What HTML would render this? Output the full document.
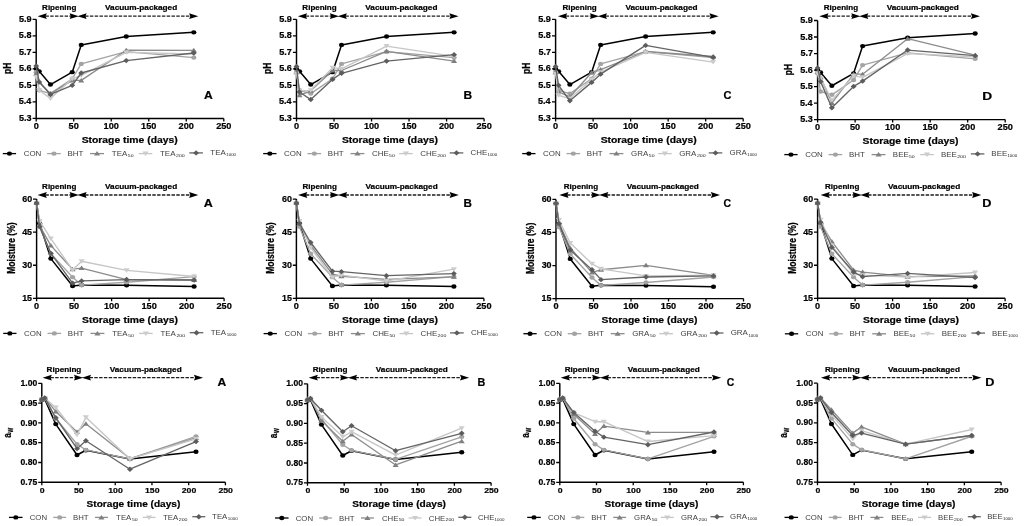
<!DOCTYPE html>
<html><head><meta charset="utf-8"><style>
html,body{margin:0;padding:0;background:#fff;overflow:hidden;}
svg{display:block;filter:blur(0.35px);}
text{font-family:"Liberation Sans", sans-serif;}
</style></head><body>
<svg width="1024" height="526" viewBox="0 0 1024 526" font-family='"Liberation Sans", sans-serif'>
<rect width="1024" height="526" fill="#fff"/>
<g>
<path d="M36.2 19.3V118.4H223.8" fill="none" stroke="#000" stroke-width="1.45"/>
<path d="M32.6 118.4H36.2M32.6 101.88H36.2M32.6 85.37H36.2M32.6 68.85H36.2M32.6 52.33H36.2M32.6 35.82H36.2M32.6 19.3H36.2M36.2 118.4V121.4M73.72 118.4V121.4M111.24 118.4V121.4M148.76 118.4V121.4M186.28 118.4V121.4M223.8 118.4V121.4" stroke="#000" stroke-width="1.3"/>
<text transform="translate(18.91 120.89) scale(1.08 1)" font-size="8.4" font-weight="bold" fill="#000" stroke="#000" stroke-width="0.2">5.3</text>
<text transform="translate(18.64 104.37) scale(1.08 1)" font-size="8.4" font-weight="bold" fill="#000" stroke="#000" stroke-width="0.2">5.4</text>
<text transform="translate(18.84 87.86) scale(1.08 1)" font-size="8.4" font-weight="bold" fill="#000" stroke="#000" stroke-width="0.2">5.5</text>
<text transform="translate(18.91 71.34) scale(1.08 1)" font-size="8.4" font-weight="bold" fill="#000" stroke="#000" stroke-width="0.2">5.6</text>
<text transform="translate(18.98 54.82) scale(1.08 1)" font-size="8.4" font-weight="bold" fill="#000" stroke="#000" stroke-width="0.2">5.7</text>
<text transform="translate(18.86 38.31) scale(1.08 1)" font-size="8.4" font-weight="bold" fill="#000" stroke="#000" stroke-width="0.2">5.8</text>
<text transform="translate(18.91 21.79) scale(1.08 1)" font-size="8.4" font-weight="bold" fill="#000" stroke="#000" stroke-width="0.2">5.9</text>
<text transform="translate(33.65 129) scale(1.12 1)" font-size="8.2" font-weight="bold" stroke="#000" stroke-width="0.2">0</text>
<text transform="translate(68.61 129) scale(1.12 1)" font-size="8.2" font-weight="bold" stroke="#000" stroke-width="0.2">50</text>
<text transform="translate(103.58 129) scale(1.12 1)" font-size="8.2" font-weight="bold" stroke="#000" stroke-width="0.2">100</text>
<text transform="translate(141.1 129) scale(1.12 1)" font-size="8.2" font-weight="bold" stroke="#000" stroke-width="0.2">150</text>
<text transform="translate(178.62 129) scale(1.12 1)" font-size="8.2" font-weight="bold" stroke="#000" stroke-width="0.2">200</text>
<text transform="translate(216.14 129) scale(1.12 1)" font-size="8.2" font-weight="bold" stroke="#000" stroke-width="0.2">250</text>
<text transform="translate(81.69 142.8) scale(1.15 1)" font-size="9" font-weight="bold" fill="#000" stroke="#000" stroke-width="0.2">Storage time (days)</text>
<text transform="translate(42.11 9.8) scale(1.18 1)" font-size="6.8" font-weight="bold" fill="#000" stroke="#000" stroke-width="0.2">Ripening</text>
<text transform="translate(105.09 9.8) scale(1.21 1)" font-size="6.8" font-weight="bold" fill="#000" stroke="#000" stroke-width="0.2">Vacuum-packaged</text>
<path d="M45.4 16.2H71.1M85.1 16.2H190.5" stroke="#1c1c1c" stroke-width="1.3" stroke-dasharray="3.45 1.35"/>
<path d="M37.6 16.2L46.8 13.3L45.6 16.2L46.8 19.1Z" fill="#000"/>
<path d="M78.8 16.2L69.6 13.3L70.8 16.2L69.6 19.1Z" fill="#000"/>
<path d="M77.4 16.2L86.6 13.3L85.4 16.2L86.6 19.1Z" fill="#000"/>
<path d="M198.3 16.2L189.1 13.3L190.3 16.2L189.1 19.1Z" fill="#000"/>
<text transform="translate(203.9 99.25) scale(1.14 1)" font-size="10.6" font-weight="bold" fill="#000" stroke="#000" stroke-width="0.2">A</text>
<text transform="translate(10.96 73.95) scale(1.27 1.06) rotate(-90)" font-size="8" font-weight="bold" stroke="#000" stroke-width="0.2">pH</text>
<path d="M2.8 153.6H16.1" stroke="#000000" stroke-width="1.3"/>
<ellipse cx="9.45" cy="153.6" rx="2.6" ry="2.2" fill="#000000"/>
<text transform="translate(23.7 156) scale(1.12 1)" font-size="7.1" font-weight="normal" fill="#404040">CON</text>
<path d="M47.1 153.6H60.75" stroke="#a3a3a3" stroke-width="1.3"/>
<ellipse cx="53.92" cy="153.6" rx="2.6" ry="2.2" fill="#a3a3a3"/>
<text transform="translate(67.44 156) scale(1.12 1)" font-size="7.1" font-weight="normal" fill="#404040">BHT</text>
<path d="M90.1 153.6H104" stroke="#8c8c8c" stroke-width="1.3"/>
<path d="M97.05 151.1L100.12 155.6L93.98 155.6Z" fill="#808080"/>
<text transform="translate(111.82 156) scale(1.12 1)" font-size="7.1" font-weight="normal" fill="#404040">TEA</text>
<text transform="translate(127.86 157.1) scale(1.19 1)" font-size="4.3" font-weight="normal" fill="#262626">50</text>
<path d="M138.7 153.6H152.3" stroke="#c6c6c6" stroke-width="1.3"/>
<path d="M145.5 156.1L148.57 151.6L142.43 151.6Z" fill="#cccccc"/>
<text transform="translate(160.02 156) scale(1.12 1)" font-size="7.1" font-weight="normal" fill="#404040">TEA</text>
<text transform="translate(176.01 157.1) scale(1.22 1)" font-size="4.3" font-weight="normal" fill="#262626">200</text>
<path d="M189.3 152.9H202.9" stroke="#646464" stroke-width="1.3"/>
<path d="M196.1 150.2L199.05 152.9L196.1 155.6L193.15 152.9Z" fill="#5c5c5c"/>
<text transform="translate(210.32 155.3) scale(1.12 1)" font-size="7.1" font-weight="normal" fill="#404040">TEA</text>
<text transform="translate(226.24 156.4) scale(1.03 1)" font-size="4.3" font-weight="normal" fill="#262626">1000</text>
<path d="M36.2 68.85L39.2 71.33L50.46 84.54L72.22 72.15L81.22 44.9L126.25 36.48L193.78 32.35" fill="none" stroke="#000000" stroke-width="1.5" stroke-linejoin="round"/>
<ellipse cx="36.2" cy="68.85" rx="2.6" ry="2.2" fill="#000000"/>
<ellipse cx="39.2" cy="71.33" rx="2.6" ry="2.2" fill="#000000"/>
<ellipse cx="50.46" cy="84.54" rx="2.6" ry="2.2" fill="#000000"/>
<ellipse cx="72.22" cy="72.15" rx="2.6" ry="2.2" fill="#000000"/>
<ellipse cx="81.22" cy="44.9" rx="2.6" ry="2.2" fill="#000000"/>
<ellipse cx="126.25" cy="36.48" rx="2.6" ry="2.2" fill="#000000"/>
<ellipse cx="193.78" cy="32.35" rx="2.6" ry="2.2" fill="#000000"/>
<path d="M36.2 72.15L39.2 90.32L50.46 93.62L72.22 78.76L81.22 63.9L126.25 51.67L193.78 57.62" fill="none" stroke="#a3a3a3" stroke-width="1.35" stroke-linejoin="round"/>
<ellipse cx="36.2" cy="72.15" rx="2.6" ry="2.2" fill="#a3a3a3"/>
<ellipse cx="39.2" cy="90.32" rx="2.6" ry="2.2" fill="#a3a3a3"/>
<ellipse cx="50.46" cy="93.62" rx="2.6" ry="2.2" fill="#a3a3a3"/>
<ellipse cx="72.22" cy="78.76" rx="2.6" ry="2.2" fill="#a3a3a3"/>
<ellipse cx="81.22" cy="63.9" rx="2.6" ry="2.2" fill="#a3a3a3"/>
<ellipse cx="126.25" cy="51.67" rx="2.6" ry="2.2" fill="#a3a3a3"/>
<ellipse cx="193.78" cy="57.62" rx="2.6" ry="2.2" fill="#a3a3a3"/>
<path d="M36.2 73.8L39.2 82.06L50.46 93.62L72.22 80.41L81.22 80.41L126.25 50.19L193.78 50.35" fill="none" stroke="#8c8c8c" stroke-width="1.35" stroke-linejoin="round"/>
<path d="M36.2 71.3L39.27 75.8L33.13 75.8Z" fill="#808080"/>
<path d="M39.2 79.56L42.27 84.06L36.13 84.06Z" fill="#808080"/>
<path d="M50.46 91.12L53.53 95.62L47.39 95.62Z" fill="#808080"/>
<path d="M72.22 77.91L75.29 82.41L69.15 82.41Z" fill="#808080"/>
<path d="M81.22 77.91L84.29 82.41L78.16 82.41Z" fill="#808080"/>
<path d="M126.25 47.69L129.32 52.19L123.18 52.19Z" fill="#808080"/>
<path d="M193.78 47.85L196.85 52.35L190.72 52.35Z" fill="#808080"/>
<path d="M36.2 77.11L39.2 90.32L50.46 98.58L72.22 78.76L81.22 75.46L126.25 52.33L193.78 53.98" fill="none" stroke="#c6c6c6" stroke-width="1.35" stroke-linejoin="round"/>
<path d="M36.2 79.61L39.27 75.11L33.13 75.11Z" fill="#cccccc"/>
<path d="M39.2 92.82L42.27 88.32L36.13 88.32Z" fill="#cccccc"/>
<path d="M50.46 101.08L53.53 96.58L47.39 96.58Z" fill="#cccccc"/>
<path d="M72.22 81.26L75.29 76.76L69.15 76.76Z" fill="#cccccc"/>
<path d="M81.22 77.96L84.29 73.46L78.16 73.46Z" fill="#cccccc"/>
<path d="M126.25 54.83L129.32 50.33L123.18 50.33Z" fill="#cccccc"/>
<path d="M193.78 56.48L196.85 51.98L190.72 51.98Z" fill="#cccccc"/>
<path d="M36.2 65.88L39.2 82.06L50.46 94.45L72.22 85.37L81.22 72.98L126.25 60.59L193.78 52.99" fill="none" stroke="#646464" stroke-width="1.35" stroke-linejoin="round"/>
<path d="M36.2 63.18L39.15 65.88L36.2 68.58L33.25 65.88Z" fill="#5c5c5c"/>
<path d="M39.2 79.36L42.15 82.06L39.2 84.76L36.25 82.06Z" fill="#5c5c5c"/>
<path d="M50.46 91.75L53.41 94.45L50.46 97.15L47.51 94.45Z" fill="#5c5c5c"/>
<path d="M72.22 82.67L75.17 85.37L72.22 88.07L69.27 85.37Z" fill="#5c5c5c"/>
<path d="M81.22 70.28L84.17 72.98L81.22 75.68L78.27 72.98Z" fill="#5c5c5c"/>
<path d="M126.25 57.89L129.2 60.59L126.25 63.29L123.3 60.59Z" fill="#5c5c5c"/>
<path d="M193.78 50.29L196.73 52.99L193.78 55.69L190.83 52.99Z" fill="#5c5c5c"/>
</g>
<g>
<path d="M296.5 19.3V118.4H484.1" fill="none" stroke="#000" stroke-width="1.45"/>
<path d="M292.9 118.4H296.5M292.9 101.88H296.5M292.9 85.37H296.5M292.9 68.85H296.5M292.9 52.33H296.5M292.9 35.82H296.5M292.9 19.3H296.5M296.5 118.4V121.4M334.02 118.4V121.4M371.54 118.4V121.4M409.06 118.4V121.4M446.58 118.4V121.4M484.1 118.4V121.4" stroke="#000" stroke-width="1.3"/>
<text transform="translate(279.21 120.89) scale(1.08 1)" font-size="8.4" font-weight="bold" fill="#000" stroke="#000" stroke-width="0.2">5.3</text>
<text transform="translate(278.94 104.37) scale(1.08 1)" font-size="8.4" font-weight="bold" fill="#000" stroke="#000" stroke-width="0.2">5.4</text>
<text transform="translate(279.14 87.86) scale(1.08 1)" font-size="8.4" font-weight="bold" fill="#000" stroke="#000" stroke-width="0.2">5.5</text>
<text transform="translate(279.21 71.34) scale(1.08 1)" font-size="8.4" font-weight="bold" fill="#000" stroke="#000" stroke-width="0.2">5.6</text>
<text transform="translate(279.28 54.82) scale(1.08 1)" font-size="8.4" font-weight="bold" fill="#000" stroke="#000" stroke-width="0.2">5.7</text>
<text transform="translate(279.16 38.31) scale(1.08 1)" font-size="8.4" font-weight="bold" fill="#000" stroke="#000" stroke-width="0.2">5.8</text>
<text transform="translate(279.21 21.79) scale(1.08 1)" font-size="8.4" font-weight="bold" fill="#000" stroke="#000" stroke-width="0.2">5.9</text>
<text transform="translate(293.95 129) scale(1.12 1)" font-size="8.2" font-weight="bold" stroke="#000" stroke-width="0.2">0</text>
<text transform="translate(328.91 129) scale(1.12 1)" font-size="8.2" font-weight="bold" stroke="#000" stroke-width="0.2">50</text>
<text transform="translate(363.88 129) scale(1.12 1)" font-size="8.2" font-weight="bold" stroke="#000" stroke-width="0.2">100</text>
<text transform="translate(401.4 129) scale(1.12 1)" font-size="8.2" font-weight="bold" stroke="#000" stroke-width="0.2">150</text>
<text transform="translate(438.92 129) scale(1.12 1)" font-size="8.2" font-weight="bold" stroke="#000" stroke-width="0.2">200</text>
<text transform="translate(476.44 129) scale(1.12 1)" font-size="8.2" font-weight="bold" stroke="#000" stroke-width="0.2">250</text>
<text transform="translate(341.89 142.8) scale(1.15 1)" font-size="9" font-weight="bold" fill="#000" stroke="#000" stroke-width="0.2">Storage time (days)</text>
<text transform="translate(302.37 9.8) scale(1.18 1)" font-size="6.8" font-weight="bold" fill="#000" stroke="#000" stroke-width="0.2">Ripening</text>
<text transform="translate(365.35 9.8) scale(1.21 1)" font-size="6.8" font-weight="bold" fill="#000" stroke="#000" stroke-width="0.2">Vacuum-packaged</text>
<path d="M305.66 16.2H331.36M345.36 16.2H450.76" stroke="#1c1c1c" stroke-width="1.3" stroke-dasharray="3.45 1.35"/>
<path d="M297.86 16.2L307.06 13.3L305.86 16.2L307.06 19.1Z" fill="#000"/>
<path d="M339.06 16.2L329.86 13.3L331.06 16.2L329.86 19.1Z" fill="#000"/>
<path d="M337.66 16.2L346.86 13.3L345.66 16.2L346.86 19.1Z" fill="#000"/>
<path d="M458.56 16.2L449.36 13.3L450.56 16.2L449.36 19.1Z" fill="#000"/>
<text transform="translate(463.49 99.3) scale(1.13 1)" font-size="10.6" font-weight="bold" fill="#000" stroke="#000" stroke-width="0.2">B</text>
<text transform="translate(271.26 73.95) scale(1.27 1.06) rotate(-90)" font-size="8" font-weight="bold" stroke="#000" stroke-width="0.2">pH</text>
<path d="M263.2 153.6H276.5" stroke="#000000" stroke-width="1.3"/>
<ellipse cx="269.85" cy="153.6" rx="2.6" ry="2.2" fill="#000000"/>
<text transform="translate(284.1 156) scale(1.12 1)" font-size="7.1" font-weight="normal" fill="#404040">CON</text>
<path d="M307.5 153.6H321.15" stroke="#a3a3a3" stroke-width="1.3"/>
<ellipse cx="314.32" cy="153.6" rx="2.6" ry="2.2" fill="#a3a3a3"/>
<text transform="translate(327.84 156) scale(1.12 1)" font-size="7.1" font-weight="normal" fill="#404040">BHT</text>
<path d="M350.5 153.6H364.4" stroke="#8c8c8c" stroke-width="1.3"/>
<path d="M357.45 151.1L360.52 155.6L354.38 155.6Z" fill="#808080"/>
<text transform="translate(372 156) scale(1.12 1)" font-size="7.1" font-weight="normal" fill="#404040">CHE</text>
<text transform="translate(389.06 157.1) scale(1.19 1)" font-size="4.3" font-weight="normal" fill="#262626">50</text>
<path d="M399.1 153.6H412.7" stroke="#c6c6c6" stroke-width="1.3"/>
<path d="M405.9 156.1L408.97 151.6L402.83 151.6Z" fill="#cccccc"/>
<text transform="translate(420.2 156) scale(1.12 1)" font-size="7.1" font-weight="normal" fill="#404040">CHE</text>
<text transform="translate(437.2 157.1) scale(1.22 1)" font-size="4.3" font-weight="normal" fill="#262626">200</text>
<path d="M449.7 152.9H463.3" stroke="#646464" stroke-width="1.3"/>
<path d="M456.5 150.2L459.45 152.9L456.5 155.6L453.55 152.9Z" fill="#5c5c5c"/>
<text transform="translate(470.5 155.3) scale(1.12 1)" font-size="7.1" font-weight="normal" fill="#404040">CHE</text>
<text transform="translate(487.43 156.4) scale(1.03 1)" font-size="4.3" font-weight="normal" fill="#262626">1000</text>
<path d="M296.5 68.85L299.5 71.33L310.76 84.54L332.52 72.15L341.52 44.9L386.55 36.48L454.08 32.35" fill="none" stroke="#000000" stroke-width="1.5" stroke-linejoin="round"/>
<ellipse cx="296.5" cy="68.85" rx="2.6" ry="2.2" fill="#000000"/>
<ellipse cx="299.5" cy="71.33" rx="2.6" ry="2.2" fill="#000000"/>
<ellipse cx="310.76" cy="84.54" rx="2.6" ry="2.2" fill="#000000"/>
<ellipse cx="332.52" cy="72.15" rx="2.6" ry="2.2" fill="#000000"/>
<ellipse cx="341.52" cy="44.9" rx="2.6" ry="2.2" fill="#000000"/>
<ellipse cx="386.55" cy="36.48" rx="2.6" ry="2.2" fill="#000000"/>
<ellipse cx="454.08" cy="32.35" rx="2.6" ry="2.2" fill="#000000"/>
<path d="M296.5 72.15L299.5 90.32L310.76 93.62L332.52 78.76L341.52 63.9L386.55 51.67L454.08 57.62" fill="none" stroke="#a3a3a3" stroke-width="1.35" stroke-linejoin="round"/>
<ellipse cx="296.5" cy="72.15" rx="2.6" ry="2.2" fill="#a3a3a3"/>
<ellipse cx="299.5" cy="90.32" rx="2.6" ry="2.2" fill="#a3a3a3"/>
<ellipse cx="310.76" cy="93.62" rx="2.6" ry="2.2" fill="#a3a3a3"/>
<ellipse cx="332.52" cy="78.76" rx="2.6" ry="2.2" fill="#a3a3a3"/>
<ellipse cx="341.52" cy="63.9" rx="2.6" ry="2.2" fill="#a3a3a3"/>
<ellipse cx="386.55" cy="51.67" rx="2.6" ry="2.2" fill="#a3a3a3"/>
<ellipse cx="454.08" cy="57.62" rx="2.6" ry="2.2" fill="#a3a3a3"/>
<path d="M296.5 72.15L299.5 95.28L310.76 90.82L332.52 70.5L341.52 70.5L386.55 51.34L454.08 61.09" fill="none" stroke="#8c8c8c" stroke-width="1.35" stroke-linejoin="round"/>
<path d="M296.5 69.65L299.57 74.15L293.43 74.15Z" fill="#808080"/>
<path d="M299.5 92.78L302.57 97.28L296.43 97.28Z" fill="#808080"/>
<path d="M310.76 88.32L313.83 92.82L307.69 92.82Z" fill="#808080"/>
<path d="M332.52 68L335.59 72.5L329.45 72.5Z" fill="#808080"/>
<path d="M341.52 68L344.59 72.5L338.46 72.5Z" fill="#808080"/>
<path d="M386.55 48.84L389.62 53.34L383.48 53.34Z" fill="#808080"/>
<path d="M454.08 58.59L457.15 63.09L451.02 63.09Z" fill="#808080"/>
<path d="M296.5 73.8L299.5 90.82L310.76 90.32L332.52 67.69L341.52 68.85L386.55 46.06L454.08 56.3" fill="none" stroke="#c6c6c6" stroke-width="1.35" stroke-linejoin="round"/>
<path d="M296.5 76.3L299.57 71.8L293.43 71.8Z" fill="#cccccc"/>
<path d="M299.5 93.32L302.57 88.82L296.43 88.82Z" fill="#cccccc"/>
<path d="M310.76 92.82L313.83 88.32L307.69 88.32Z" fill="#cccccc"/>
<path d="M332.52 70.19L335.59 65.69L329.45 65.69Z" fill="#cccccc"/>
<path d="M341.52 71.35L344.59 66.85L338.46 66.85Z" fill="#cccccc"/>
<path d="M386.55 48.56L389.62 44.06L383.48 44.06Z" fill="#cccccc"/>
<path d="M454.08 58.8L457.15 54.3L451.02 54.3Z" fill="#cccccc"/>
<path d="M296.5 66.54L299.5 91.97L310.76 99.57L332.52 79.42L341.52 73.31L386.55 61.09L454.08 54.65" fill="none" stroke="#646464" stroke-width="1.35" stroke-linejoin="round"/>
<path d="M296.5 63.84L299.45 66.54L296.5 69.24L293.55 66.54Z" fill="#5c5c5c"/>
<path d="M299.5 89.27L302.45 91.97L299.5 94.67L296.55 91.97Z" fill="#5c5c5c"/>
<path d="M310.76 96.87L313.71 99.57L310.76 102.27L307.81 99.57Z" fill="#5c5c5c"/>
<path d="M332.52 76.72L335.47 79.42L332.52 82.12L329.57 79.42Z" fill="#5c5c5c"/>
<path d="M341.52 70.61L344.47 73.31L341.52 76.01L338.57 73.31Z" fill="#5c5c5c"/>
<path d="M386.55 58.39L389.5 61.09L386.55 63.79L383.6 61.09Z" fill="#5c5c5c"/>
<path d="M454.08 51.95L457.03 54.65L454.08 57.35L451.13 54.65Z" fill="#5c5c5c"/>
</g>
<g>
<path d="M555.6 19.3V118.4H743.2" fill="none" stroke="#000" stroke-width="1.45"/>
<path d="M552 118.4H555.6M552 101.88H555.6M552 85.37H555.6M552 68.85H555.6M552 52.33H555.6M552 35.82H555.6M552 19.3H555.6M555.6 118.4V121.4M593.12 118.4V121.4M630.64 118.4V121.4M668.16 118.4V121.4M705.68 118.4V121.4M743.2 118.4V121.4" stroke="#000" stroke-width="1.3"/>
<text transform="translate(538.31 120.89) scale(1.08 1)" font-size="8.4" font-weight="bold" fill="#000" stroke="#000" stroke-width="0.2">5.3</text>
<text transform="translate(538.04 104.37) scale(1.08 1)" font-size="8.4" font-weight="bold" fill="#000" stroke="#000" stroke-width="0.2">5.4</text>
<text transform="translate(538.24 87.86) scale(1.08 1)" font-size="8.4" font-weight="bold" fill="#000" stroke="#000" stroke-width="0.2">5.5</text>
<text transform="translate(538.31 71.34) scale(1.08 1)" font-size="8.4" font-weight="bold" fill="#000" stroke="#000" stroke-width="0.2">5.6</text>
<text transform="translate(538.38 54.82) scale(1.08 1)" font-size="8.4" font-weight="bold" fill="#000" stroke="#000" stroke-width="0.2">5.7</text>
<text transform="translate(538.26 38.31) scale(1.08 1)" font-size="8.4" font-weight="bold" fill="#000" stroke="#000" stroke-width="0.2">5.8</text>
<text transform="translate(538.31 21.79) scale(1.08 1)" font-size="8.4" font-weight="bold" fill="#000" stroke="#000" stroke-width="0.2">5.9</text>
<text transform="translate(553.05 129) scale(1.12 1)" font-size="8.2" font-weight="bold" stroke="#000" stroke-width="0.2">0</text>
<text transform="translate(588.01 129) scale(1.12 1)" font-size="8.2" font-weight="bold" stroke="#000" stroke-width="0.2">50</text>
<text transform="translate(622.98 129) scale(1.12 1)" font-size="8.2" font-weight="bold" stroke="#000" stroke-width="0.2">100</text>
<text transform="translate(660.5 129) scale(1.12 1)" font-size="8.2" font-weight="bold" stroke="#000" stroke-width="0.2">150</text>
<text transform="translate(698.02 129) scale(1.12 1)" font-size="8.2" font-weight="bold" stroke="#000" stroke-width="0.2">200</text>
<text transform="translate(735.54 129) scale(1.12 1)" font-size="8.2" font-weight="bold" stroke="#000" stroke-width="0.2">250</text>
<text transform="translate(600.69 142.8) scale(1.15 1)" font-size="9" font-weight="bold" fill="#000" stroke="#000" stroke-width="0.2">Storage time (days)</text>
<text transform="translate(562.45 9.8) scale(1.18 1)" font-size="6.8" font-weight="bold" fill="#000" stroke="#000" stroke-width="0.2">Ripening</text>
<text transform="translate(625.43 9.8) scale(1.21 1)" font-size="6.8" font-weight="bold" fill="#000" stroke="#000" stroke-width="0.2">Vacuum-packaged</text>
<path d="M565.74 16.2H591.44M605.44 16.2H710.84" stroke="#1c1c1c" stroke-width="1.3" stroke-dasharray="3.45 1.35"/>
<path d="M557.94 16.2L567.14 13.3L565.94 16.2L567.14 19.1Z" fill="#000"/>
<path d="M599.14 16.2L589.94 13.3L591.14 16.2L589.94 19.1Z" fill="#000"/>
<path d="M597.74 16.2L606.94 13.3L605.74 16.2L606.94 19.1Z" fill="#000"/>
<path d="M718.64 16.2L709.44 13.3L710.64 16.2L709.44 19.1Z" fill="#000"/>
<text transform="translate(723.46 99.4) scale(1.04 1)" font-size="10.6" font-weight="bold" fill="#000" stroke="#000" stroke-width="0.2">C</text>
<text transform="translate(530.36 73.95) scale(1.27 1.06) rotate(-90)" font-size="8" font-weight="bold" stroke="#000" stroke-width="0.2">pH</text>
<path d="M522.2 153.6H535.5" stroke="#000000" stroke-width="1.3"/>
<ellipse cx="528.85" cy="153.6" rx="2.6" ry="2.2" fill="#000000"/>
<text transform="translate(543.1 156) scale(1.12 1)" font-size="7.1" font-weight="normal" fill="#404040">CON</text>
<path d="M566.5 153.6H580.15" stroke="#a3a3a3" stroke-width="1.3"/>
<ellipse cx="573.33" cy="153.6" rx="2.6" ry="2.2" fill="#a3a3a3"/>
<text transform="translate(586.84 156) scale(1.12 1)" font-size="7.1" font-weight="normal" fill="#404040">BHT</text>
<path d="M609.5 153.6H623.4" stroke="#8c8c8c" stroke-width="1.3"/>
<path d="M616.45 151.1L619.52 155.6L613.38 155.6Z" fill="#808080"/>
<text transform="translate(631 156) scale(1.12 1)" font-size="7.1" font-weight="normal" fill="#404040">GRA</text>
<text transform="translate(648.81 157.1) scale(1.19 1)" font-size="4.3" font-weight="normal" fill="#262626">50</text>
<path d="M658.1 153.6H671.7" stroke="#c6c6c6" stroke-width="1.3"/>
<path d="M664.9 156.1L667.97 151.6L661.83 151.6Z" fill="#cccccc"/>
<text transform="translate(679.2 156) scale(1.12 1)" font-size="7.1" font-weight="normal" fill="#404040">GRA</text>
<text transform="translate(696.96 157.1) scale(1.22 1)" font-size="4.3" font-weight="normal" fill="#262626">200</text>
<path d="M708.7 152.9H722.3" stroke="#646464" stroke-width="1.3"/>
<path d="M715.5 150.2L718.45 152.9L715.5 155.6L712.55 152.9Z" fill="#5c5c5c"/>
<text transform="translate(729.5 155.3) scale(1.12 1)" font-size="7.1" font-weight="normal" fill="#404040">GRA</text>
<text transform="translate(747.19 156.4) scale(1.03 1)" font-size="4.3" font-weight="normal" fill="#262626">1000</text>
<path d="M555.6 68.85L558.6 71.33L569.86 84.54L591.62 72.15L600.62 44.9L645.65 36.48L713.18 32.35" fill="none" stroke="#000000" stroke-width="1.5" stroke-linejoin="round"/>
<ellipse cx="555.6" cy="68.85" rx="2.6" ry="2.2" fill="#000000"/>
<ellipse cx="558.6" cy="71.33" rx="2.6" ry="2.2" fill="#000000"/>
<ellipse cx="569.86" cy="84.54" rx="2.6" ry="2.2" fill="#000000"/>
<ellipse cx="591.62" cy="72.15" rx="2.6" ry="2.2" fill="#000000"/>
<ellipse cx="600.62" cy="44.9" rx="2.6" ry="2.2" fill="#000000"/>
<ellipse cx="645.65" cy="36.48" rx="2.6" ry="2.2" fill="#000000"/>
<ellipse cx="713.18" cy="32.35" rx="2.6" ry="2.2" fill="#000000"/>
<path d="M555.6 72.15L558.6 90.32L569.86 93.62L591.62 78.76L600.62 63.9L645.65 51.67L713.18 57.62" fill="none" stroke="#a3a3a3" stroke-width="1.35" stroke-linejoin="round"/>
<ellipse cx="555.6" cy="72.15" rx="2.6" ry="2.2" fill="#a3a3a3"/>
<ellipse cx="558.6" cy="90.32" rx="2.6" ry="2.2" fill="#a3a3a3"/>
<ellipse cx="569.86" cy="93.62" rx="2.6" ry="2.2" fill="#a3a3a3"/>
<ellipse cx="591.62" cy="78.76" rx="2.6" ry="2.2" fill="#a3a3a3"/>
<ellipse cx="600.62" cy="63.9" rx="2.6" ry="2.2" fill="#a3a3a3"/>
<ellipse cx="645.65" cy="51.67" rx="2.6" ry="2.2" fill="#a3a3a3"/>
<ellipse cx="713.18" cy="57.62" rx="2.6" ry="2.2" fill="#a3a3a3"/>
<path d="M555.6 72.15L558.6 91.97L569.86 96.93L591.62 72.48L600.62 69.51L645.65 51.51L713.18 56.46" fill="none" stroke="#8c8c8c" stroke-width="1.35" stroke-linejoin="round"/>
<path d="M555.6 69.65L558.67 74.15L552.53 74.15Z" fill="#808080"/>
<path d="M558.6 89.47L561.67 93.97L555.53 93.97Z" fill="#808080"/>
<path d="M569.86 94.43L572.93 98.93L566.79 98.93Z" fill="#808080"/>
<path d="M591.62 69.98L594.69 74.48L588.55 74.48Z" fill="#808080"/>
<path d="M600.62 67.01L603.69 71.51L597.56 71.51Z" fill="#808080"/>
<path d="M645.65 49.01L648.72 53.51L642.58 53.51Z" fill="#808080"/>
<path d="M713.18 53.96L716.25 58.46L710.12 58.46Z" fill="#808080"/>
<path d="M555.6 73.8L558.6 95.28L569.86 98.58L591.62 79.42L600.62 72.15L645.65 52.33L713.18 62.08" fill="none" stroke="#c6c6c6" stroke-width="1.35" stroke-linejoin="round"/>
<path d="M555.6 76.3L558.67 71.8L552.53 71.8Z" fill="#cccccc"/>
<path d="M558.6 97.78L561.67 93.28L555.53 93.28Z" fill="#cccccc"/>
<path d="M569.86 101.08L572.93 96.58L566.79 96.58Z" fill="#cccccc"/>
<path d="M591.62 81.92L594.69 77.42L588.55 77.42Z" fill="#cccccc"/>
<path d="M600.62 74.65L603.69 70.15L597.56 70.15Z" fill="#cccccc"/>
<path d="M645.65 54.83L648.72 50.33L642.58 50.33Z" fill="#cccccc"/>
<path d="M713.18 64.58L716.25 60.08L710.12 60.08Z" fill="#cccccc"/>
<path d="M555.6 66.54L558.6 85.37L569.86 100.73L591.62 82.39L600.62 74.14L645.65 45.4L713.18 57.29" fill="none" stroke="#646464" stroke-width="1.35" stroke-linejoin="round"/>
<path d="M555.6 63.84L558.55 66.54L555.6 69.24L552.65 66.54Z" fill="#5c5c5c"/>
<path d="M558.6 82.67L561.55 85.37L558.6 88.07L555.65 85.37Z" fill="#5c5c5c"/>
<path d="M569.86 98.03L572.81 100.73L569.86 103.43L566.91 100.73Z" fill="#5c5c5c"/>
<path d="M591.62 79.69L594.57 82.39L591.62 85.09L588.67 82.39Z" fill="#5c5c5c"/>
<path d="M600.62 71.44L603.57 74.14L600.62 76.84L597.67 74.14Z" fill="#5c5c5c"/>
<path d="M645.65 42.7L648.6 45.4L645.65 48.1L642.7 45.4Z" fill="#5c5c5c"/>
<path d="M713.18 54.59L716.13 57.29L713.18 59.99L710.23 57.29Z" fill="#5c5c5c"/>
</g>
<g>
<path d="M817.6 20.5V119.6H1005.2" fill="none" stroke="#000" stroke-width="1.45"/>
<path d="M814 119.6H817.6M814 103.08H817.6M814 86.57H817.6M814 70.05H817.6M814 53.53H817.6M814 37.02H817.6M814 20.5H817.6M817.6 119.6V122.6M855.12 119.6V122.6M892.64 119.6V122.6M930.16 119.6V122.6M967.68 119.6V122.6M1005.2 119.6V122.6" stroke="#000" stroke-width="1.3"/>
<text transform="translate(800.31 122.09) scale(1.08 1)" font-size="8.4" font-weight="bold" fill="#000" stroke="#000" stroke-width="0.2">5.3</text>
<text transform="translate(800.04 105.57) scale(1.08 1)" font-size="8.4" font-weight="bold" fill="#000" stroke="#000" stroke-width="0.2">5.4</text>
<text transform="translate(800.24 89.06) scale(1.08 1)" font-size="8.4" font-weight="bold" fill="#000" stroke="#000" stroke-width="0.2">5.5</text>
<text transform="translate(800.31 72.54) scale(1.08 1)" font-size="8.4" font-weight="bold" fill="#000" stroke="#000" stroke-width="0.2">5.6</text>
<text transform="translate(800.38 56.02) scale(1.08 1)" font-size="8.4" font-weight="bold" fill="#000" stroke="#000" stroke-width="0.2">5.7</text>
<text transform="translate(800.26 39.51) scale(1.08 1)" font-size="8.4" font-weight="bold" fill="#000" stroke="#000" stroke-width="0.2">5.8</text>
<text transform="translate(800.31 22.99) scale(1.08 1)" font-size="8.4" font-weight="bold" fill="#000" stroke="#000" stroke-width="0.2">5.9</text>
<text transform="translate(815.05 130.2) scale(1.12 1)" font-size="8.2" font-weight="bold" stroke="#000" stroke-width="0.2">0</text>
<text transform="translate(850.01 130.2) scale(1.12 1)" font-size="8.2" font-weight="bold" stroke="#000" stroke-width="0.2">50</text>
<text transform="translate(884.98 130.2) scale(1.12 1)" font-size="8.2" font-weight="bold" stroke="#000" stroke-width="0.2">100</text>
<text transform="translate(922.5 130.2) scale(1.12 1)" font-size="8.2" font-weight="bold" stroke="#000" stroke-width="0.2">150</text>
<text transform="translate(960.02 130.2) scale(1.12 1)" font-size="8.2" font-weight="bold" stroke="#000" stroke-width="0.2">200</text>
<text transform="translate(997.54 130.2) scale(1.12 1)" font-size="8.2" font-weight="bold" stroke="#000" stroke-width="0.2">250</text>
<text transform="translate(862.59 144) scale(1.15 1)" font-size="9" font-weight="bold" fill="#000" stroke="#000" stroke-width="0.2">Storage time (days)</text>
<text transform="translate(823.8 9.8) scale(1.18 1)" font-size="6.8" font-weight="bold" fill="#000" stroke="#000" stroke-width="0.2">Ripening</text>
<text transform="translate(886.78 9.8) scale(1.21 1)" font-size="6.8" font-weight="bold" fill="#000" stroke="#000" stroke-width="0.2">Vacuum-packaged</text>
<path d="M827.09 16.2H852.79M866.79 16.2H972.19" stroke="#1c1c1c" stroke-width="1.3" stroke-dasharray="3.45 1.35"/>
<path d="M819.29 16.2L828.49 13.3L827.29 16.2L828.49 19.1Z" fill="#000"/>
<path d="M860.49 16.2L851.29 13.3L852.49 16.2L851.29 19.1Z" fill="#000"/>
<path d="M859.09 16.2L868.29 13.3L867.09 16.2L868.29 19.1Z" fill="#000"/>
<path d="M979.99 16.2L970.79 13.3L971.99 16.2L970.79 19.1Z" fill="#000"/>
<text transform="translate(982.17 99.9) scale(1.29 1)" font-size="10.6" font-weight="bold" fill="#000" stroke="#000" stroke-width="0.2">D</text>
<text transform="translate(792.36 75.15) scale(1.27 1.06) rotate(-90)" font-size="8" font-weight="bold" stroke="#000" stroke-width="0.2">pH</text>
<path d="M784.3 154.6H797.6" stroke="#000000" stroke-width="1.3"/>
<ellipse cx="790.95" cy="154.6" rx="2.6" ry="2.2" fill="#000000"/>
<text transform="translate(805.2 157) scale(1.12 1)" font-size="7.1" font-weight="normal" fill="#404040">CON</text>
<path d="M828.6 154.6H842.25" stroke="#a3a3a3" stroke-width="1.3"/>
<ellipse cx="835.42" cy="154.6" rx="2.6" ry="2.2" fill="#a3a3a3"/>
<text transform="translate(848.94 157) scale(1.12 1)" font-size="7.1" font-weight="normal" fill="#404040">BHT</text>
<path d="M871.6 154.6H885.5" stroke="#8c8c8c" stroke-width="1.3"/>
<path d="M878.55 152.1L881.62 156.6L875.48 156.6Z" fill="#808080"/>
<text transform="translate(892.84 157) scale(1.12 1)" font-size="7.1" font-weight="normal" fill="#404040">BEE</text>
<text transform="translate(909.02 158.1) scale(1.19 1)" font-size="4.3" font-weight="normal" fill="#262626">50</text>
<path d="M920.2 154.6H933.8" stroke="#c6c6c6" stroke-width="1.3"/>
<path d="M927 157.1L930.07 152.6L923.93 152.6Z" fill="#cccccc"/>
<text transform="translate(941.04 157) scale(1.12 1)" font-size="7.1" font-weight="normal" fill="#404040">BEE</text>
<text transform="translate(957.17 158.1) scale(1.22 1)" font-size="4.3" font-weight="normal" fill="#262626">200</text>
<path d="M970.8 153.9H984.4" stroke="#646464" stroke-width="1.3"/>
<path d="M977.6 151.2L980.55 153.9L977.6 156.6L974.65 153.9Z" fill="#5c5c5c"/>
<text transform="translate(991.34 156.3) scale(1.12 1)" font-size="7.1" font-weight="normal" fill="#404040">BEE</text>
<text transform="translate(1007.4 157.4) scale(1.03 1)" font-size="4.3" font-weight="normal" fill="#262626">1000</text>
<path d="M817.6 70.05L820.6 72.53L831.86 85.74L853.62 73.35L862.62 46.1L907.65 37.68L975.18 33.55" fill="none" stroke="#000000" stroke-width="1.5" stroke-linejoin="round"/>
<ellipse cx="817.6" cy="70.05" rx="2.6" ry="2.2" fill="#000000"/>
<ellipse cx="820.6" cy="72.53" rx="2.6" ry="2.2" fill="#000000"/>
<ellipse cx="831.86" cy="85.74" rx="2.6" ry="2.2" fill="#000000"/>
<ellipse cx="853.62" cy="73.35" rx="2.6" ry="2.2" fill="#000000"/>
<ellipse cx="862.62" cy="46.1" rx="2.6" ry="2.2" fill="#000000"/>
<ellipse cx="907.65" cy="37.68" rx="2.6" ry="2.2" fill="#000000"/>
<ellipse cx="975.18" cy="33.55" rx="2.6" ry="2.2" fill="#000000"/>
<path d="M817.6 73.35L820.6 91.52L831.86 94.82L853.62 79.96L862.62 65.1L907.65 52.87L975.18 58.82" fill="none" stroke="#a3a3a3" stroke-width="1.35" stroke-linejoin="round"/>
<ellipse cx="817.6" cy="73.35" rx="2.6" ry="2.2" fill="#a3a3a3"/>
<ellipse cx="820.6" cy="91.52" rx="2.6" ry="2.2" fill="#a3a3a3"/>
<ellipse cx="831.86" cy="94.82" rx="2.6" ry="2.2" fill="#a3a3a3"/>
<ellipse cx="853.62" cy="79.96" rx="2.6" ry="2.2" fill="#a3a3a3"/>
<ellipse cx="862.62" cy="65.1" rx="2.6" ry="2.2" fill="#a3a3a3"/>
<ellipse cx="907.65" cy="52.87" rx="2.6" ry="2.2" fill="#a3a3a3"/>
<ellipse cx="975.18" cy="58.82" rx="2.6" ry="2.2" fill="#a3a3a3"/>
<path d="M817.6 71.7L820.6 77.32L831.86 103.08L853.62 74.18L862.62 74.18L907.65 38.67L975.18 55.18" fill="none" stroke="#8c8c8c" stroke-width="1.35" stroke-linejoin="round"/>
<path d="M817.6 69.2L820.67 73.7L814.53 73.7Z" fill="#808080"/>
<path d="M820.6 74.82L823.67 79.32L817.53 79.32Z" fill="#808080"/>
<path d="M831.86 100.58L834.93 105.08L828.79 105.08Z" fill="#808080"/>
<path d="M853.62 71.68L856.69 76.18L850.55 76.18Z" fill="#808080"/>
<path d="M862.62 71.68L865.69 76.18L859.56 76.18Z" fill="#808080"/>
<path d="M907.65 36.17L910.72 40.67L904.58 40.67Z" fill="#808080"/>
<path d="M975.18 52.68L978.25 57.18L972.12 57.18Z" fill="#808080"/>
<path d="M817.6 73.35L820.6 78.31L831.86 100.11L853.62 75.83L862.62 77.32L907.65 53.53L975.18 56.84" fill="none" stroke="#c6c6c6" stroke-width="1.35" stroke-linejoin="round"/>
<path d="M817.6 75.85L820.67 71.35L814.53 71.35Z" fill="#cccccc"/>
<path d="M820.6 80.81L823.67 76.31L817.53 76.31Z" fill="#cccccc"/>
<path d="M831.86 102.61L834.93 98.11L828.79 98.11Z" fill="#cccccc"/>
<path d="M853.62 78.33L856.69 73.83L850.55 73.83Z" fill="#cccccc"/>
<path d="M862.62 79.82L865.69 75.32L859.56 75.32Z" fill="#cccccc"/>
<path d="M907.65 56.03L910.72 51.53L904.58 51.53Z" fill="#cccccc"/>
<path d="M975.18 59.34L978.25 54.84L972.12 54.84Z" fill="#cccccc"/>
<path d="M817.6 67.9L820.6 81.61L831.86 107.71L853.62 86.4L862.62 81.12L907.65 50.06L975.18 55.68" fill="none" stroke="#646464" stroke-width="1.35" stroke-linejoin="round"/>
<path d="M817.6 65.2L820.55 67.9L817.6 70.6L814.65 67.9Z" fill="#5c5c5c"/>
<path d="M820.6 78.91L823.55 81.61L820.6 84.31L817.65 81.61Z" fill="#5c5c5c"/>
<path d="M831.86 105.01L834.81 107.71L831.86 110.41L828.91 107.71Z" fill="#5c5c5c"/>
<path d="M853.62 83.7L856.57 86.4L853.62 89.1L850.67 86.4Z" fill="#5c5c5c"/>
<path d="M862.62 78.42L865.57 81.12L862.62 83.82L859.67 81.12Z" fill="#5c5c5c"/>
<path d="M907.65 47.36L910.6 50.06L907.65 52.76L904.7 50.06Z" fill="#5c5c5c"/>
<path d="M975.18 52.98L978.13 55.68L975.18 58.38L972.23 55.68Z" fill="#5c5c5c"/>
</g>
<g>
<path d="M36.6 199.1V298.3H224.1" fill="none" stroke="#000" stroke-width="1.45"/>
<path d="M33 298.3H36.6M33 265.23H36.6M33 232.17H36.6M33 199.1H36.6M36.6 298.3V301.3M74.1 298.3V301.3M111.6 298.3V301.3M149.1 298.3V301.3M186.6 298.3V301.3M224.1 298.3V301.3" stroke="#000" stroke-width="1.3"/>
<text transform="translate(22.16 300.89) scale(1.06 1)" font-size="8.4" font-weight="bold" fill="#000" stroke="#000" stroke-width="0.2">15</text>
<text transform="translate(22.27 267.82) scale(1.06 1)" font-size="8.4" font-weight="bold" fill="#000" stroke="#000" stroke-width="0.2">30</text>
<text transform="translate(22.16 234.76) scale(1.06 1)" font-size="8.4" font-weight="bold" fill="#000" stroke="#000" stroke-width="0.2">45</text>
<text transform="translate(22.27 201.69) scale(1.06 1)" font-size="8.4" font-weight="bold" fill="#000" stroke="#000" stroke-width="0.2">60</text>
<text transform="translate(34.05 308.8) scale(1.12 1)" font-size="8.2" font-weight="bold" stroke="#000" stroke-width="0.2">0</text>
<text transform="translate(68.99 308.8) scale(1.12 1)" font-size="8.2" font-weight="bold" stroke="#000" stroke-width="0.2">50</text>
<text transform="translate(103.94 308.8) scale(1.12 1)" font-size="8.2" font-weight="bold" stroke="#000" stroke-width="0.2">100</text>
<text transform="translate(141.44 308.8) scale(1.12 1)" font-size="8.2" font-weight="bold" stroke="#000" stroke-width="0.2">150</text>
<text transform="translate(178.94 308.8) scale(1.12 1)" font-size="8.2" font-weight="bold" stroke="#000" stroke-width="0.2">200</text>
<text transform="translate(216.44 308.8) scale(1.12 1)" font-size="8.2" font-weight="bold" stroke="#000" stroke-width="0.2">250</text>
<text transform="translate(82.09 322.6) scale(1.15 1)" font-size="9" font-weight="bold" fill="#000" stroke="#000" stroke-width="0.2">Storage time (days)</text>
<text transform="translate(42.11 188.85) scale(1.18 1)" font-size="6.8" font-weight="bold" fill="#000" stroke="#000" stroke-width="0.2">Ripening</text>
<text transform="translate(105.09 188.85) scale(1.21 1)" font-size="6.8" font-weight="bold" fill="#000" stroke="#000" stroke-width="0.2">Vacuum-packaged</text>
<path d="M45.4 195H71.1M85.1 195H190.5" stroke="#1c1c1c" stroke-width="1.3" stroke-dasharray="3.45 1.35"/>
<path d="M37.6 195L46.8 192.1L45.6 195L46.8 197.9Z" fill="#000"/>
<path d="M78.8 195L69.6 192.1L70.8 195L69.6 197.9Z" fill="#000"/>
<path d="M77.4 195L86.6 192.1L85.4 195L86.6 197.9Z" fill="#000"/>
<path d="M198.3 195L189.1 192.1L190.3 195L189.1 197.9Z" fill="#000"/>
<text transform="translate(203.74 206.7) scale(1.18 1)" font-size="10.6" font-weight="bold" fill="#000" stroke="#000" stroke-width="0.2">A</text>
<text transform="translate(14.6 273.78) scale(1.28 1.01) rotate(-90)" font-size="8.5" font-weight="bold" stroke="#000" stroke-width="0.2">Moisture (%)</text>
<path d="M3.2 333.4H16.5" stroke="#000000" stroke-width="1.3"/>
<ellipse cx="9.85" cy="333.4" rx="2.6" ry="2.2" fill="#000000"/>
<text transform="translate(24.1 335.8) scale(1.12 1)" font-size="7.1" font-weight="normal" fill="#404040">CON</text>
<path d="M47.5 333.4H61.15" stroke="#a3a3a3" stroke-width="1.3"/>
<ellipse cx="54.33" cy="333.4" rx="2.6" ry="2.2" fill="#a3a3a3"/>
<text transform="translate(67.84 335.8) scale(1.12 1)" font-size="7.1" font-weight="normal" fill="#404040">BHT</text>
<path d="M90.5 333.4H104.4" stroke="#8c8c8c" stroke-width="1.3"/>
<path d="M97.45 330.9L100.52 335.4L94.38 335.4Z" fill="#808080"/>
<text transform="translate(112.22 335.8) scale(1.12 1)" font-size="7.1" font-weight="normal" fill="#404040">TEA</text>
<text transform="translate(128.26 336.9) scale(1.19 1)" font-size="4.3" font-weight="normal" fill="#262626">50</text>
<path d="M139.1 333.4H152.7" stroke="#c6c6c6" stroke-width="1.3"/>
<path d="M145.9 335.9L148.97 331.4L142.83 331.4Z" fill="#cccccc"/>
<text transform="translate(160.42 335.8) scale(1.12 1)" font-size="7.1" font-weight="normal" fill="#404040">TEA</text>
<text transform="translate(176.41 336.9) scale(1.22 1)" font-size="4.3" font-weight="normal" fill="#262626">200</text>
<path d="M189.7 332.7H203.3" stroke="#646464" stroke-width="1.3"/>
<path d="M196.5 330L199.45 332.7L196.5 335.4L193.55 332.7Z" fill="#5c5c5c"/>
<text transform="translate(210.72 335.1) scale(1.12 1)" font-size="7.1" font-weight="normal" fill="#404040">TEA</text>
<text transform="translate(226.64 336.2) scale(1.03 1)" font-size="4.3" font-weight="normal" fill="#262626">1000</text>
<path d="M36.6 203.07L39.6 223.35L50.85 258.62L72.6 285.96L81.6 285.07L126.6 285.29L194.1 286.51" fill="none" stroke="#000000" stroke-width="1.5" stroke-linejoin="round"/>
<ellipse cx="36.6" cy="203.07" rx="2.6" ry="2.2" fill="#000000"/>
<ellipse cx="39.6" cy="223.35" rx="2.6" ry="2.2" fill="#000000"/>
<ellipse cx="50.85" cy="258.62" rx="2.6" ry="2.2" fill="#000000"/>
<ellipse cx="72.6" cy="285.96" rx="2.6" ry="2.2" fill="#000000"/>
<ellipse cx="81.6" cy="285.07" rx="2.6" ry="2.2" fill="#000000"/>
<ellipse cx="126.6" cy="285.29" rx="2.6" ry="2.2" fill="#000000"/>
<ellipse cx="194.1" cy="286.51" rx="2.6" ry="2.2" fill="#000000"/>
<path d="M36.6 203.07L39.6 226.66L50.85 253.77L72.6 277.14L81.6 285.07L126.6 282.21L194.1 276.7" fill="none" stroke="#a3a3a3" stroke-width="1.35" stroke-linejoin="round"/>
<ellipse cx="36.6" cy="203.07" rx="2.6" ry="2.2" fill="#a3a3a3"/>
<ellipse cx="39.6" cy="226.66" rx="2.6" ry="2.2" fill="#a3a3a3"/>
<ellipse cx="50.85" cy="253.77" rx="2.6" ry="2.2" fill="#a3a3a3"/>
<ellipse cx="72.6" cy="277.14" rx="2.6" ry="2.2" fill="#a3a3a3"/>
<ellipse cx="81.6" cy="285.07" rx="2.6" ry="2.2" fill="#a3a3a3"/>
<ellipse cx="126.6" cy="282.21" rx="2.6" ry="2.2" fill="#a3a3a3"/>
<ellipse cx="194.1" cy="276.7" rx="2.6" ry="2.2" fill="#a3a3a3"/>
<path d="M36.6 203.07L39.6 225.55L50.85 245.61L72.6 269.2L81.6 268.1L126.6 279.56L194.1 280" fill="none" stroke="#8c8c8c" stroke-width="1.35" stroke-linejoin="round"/>
<path d="M36.6 200.57L39.67 205.07L33.53 205.07Z" fill="#808080"/>
<path d="M39.6 223.05L42.67 227.55L36.53 227.55Z" fill="#808080"/>
<path d="M50.85 243.11L53.92 247.61L47.78 247.61Z" fill="#808080"/>
<path d="M72.6 266.7L75.67 271.2L69.53 271.2Z" fill="#808080"/>
<path d="M81.6 265.6L84.67 270.1L78.53 270.1Z" fill="#808080"/>
<path d="M126.6 277.06L129.67 281.56L123.53 281.56Z" fill="#808080"/>
<path d="M194.1 277.5L197.17 282L191.03 282Z" fill="#808080"/>
<path d="M36.6 203.07L39.6 220.92L50.85 238.56L72.6 270.08L81.6 261.27L126.6 270.3L194.1 276.48" fill="none" stroke="#c6c6c6" stroke-width="1.35" stroke-linejoin="round"/>
<path d="M36.6 205.57L39.67 201.07L33.53 201.07Z" fill="#cccccc"/>
<path d="M39.6 223.42L42.67 218.92L36.53 218.92Z" fill="#cccccc"/>
<path d="M50.85 241.06L53.92 236.56L47.78 236.56Z" fill="#cccccc"/>
<path d="M72.6 272.58L75.67 268.08L69.53 268.08Z" fill="#cccccc"/>
<path d="M81.6 263.77L84.67 259.27L78.53 259.27Z" fill="#cccccc"/>
<path d="M126.6 272.8L129.67 268.3L123.53 268.3Z" fill="#cccccc"/>
<path d="M194.1 278.98L197.17 274.48L191.03 274.48Z" fill="#cccccc"/>
<path d="M36.6 203.07L39.6 226.66L50.85 253.33L72.6 283.09L81.6 280.88L126.6 279.56L194.1 280" fill="none" stroke="#646464" stroke-width="1.35" stroke-linejoin="round"/>
<path d="M36.6 200.37L39.55 203.07L36.6 205.77L33.65 203.07Z" fill="#5c5c5c"/>
<path d="M39.6 223.96L42.55 226.66L39.6 229.36L36.65 226.66Z" fill="#5c5c5c"/>
<path d="M50.85 250.63L53.8 253.33L50.85 256.03L47.9 253.33Z" fill="#5c5c5c"/>
<path d="M72.6 280.39L75.55 283.09L72.6 285.79L69.65 283.09Z" fill="#5c5c5c"/>
<path d="M81.6 278.18L84.55 280.88L81.6 283.58L78.65 280.88Z" fill="#5c5c5c"/>
<path d="M126.6 276.86L129.55 279.56L126.6 282.26L123.65 279.56Z" fill="#5c5c5c"/>
<path d="M194.1 277.3L197.05 280L194.1 282.7L191.15 280Z" fill="#5c5c5c"/>
</g>
<g>
<path d="M296.4 199.1V298.3H483.9" fill="none" stroke="#000" stroke-width="1.45"/>
<path d="M292.8 298.3H296.4M292.8 265.23H296.4M292.8 232.17H296.4M292.8 199.1H296.4M296.4 298.3V301.3M333.9 298.3V301.3M371.4 298.3V301.3M408.9 298.3V301.3M446.4 298.3V301.3M483.9 298.3V301.3" stroke="#000" stroke-width="1.3"/>
<text transform="translate(281.96 300.89) scale(1.06 1)" font-size="8.4" font-weight="bold" fill="#000" stroke="#000" stroke-width="0.2">15</text>
<text transform="translate(282.07 267.82) scale(1.06 1)" font-size="8.4" font-weight="bold" fill="#000" stroke="#000" stroke-width="0.2">30</text>
<text transform="translate(281.96 234.76) scale(1.06 1)" font-size="8.4" font-weight="bold" fill="#000" stroke="#000" stroke-width="0.2">45</text>
<text transform="translate(282.07 201.69) scale(1.06 1)" font-size="8.4" font-weight="bold" fill="#000" stroke="#000" stroke-width="0.2">60</text>
<text transform="translate(293.85 308.8) scale(1.12 1)" font-size="8.2" font-weight="bold" stroke="#000" stroke-width="0.2">0</text>
<text transform="translate(328.79 308.8) scale(1.12 1)" font-size="8.2" font-weight="bold" stroke="#000" stroke-width="0.2">50</text>
<text transform="translate(363.74 308.8) scale(1.12 1)" font-size="8.2" font-weight="bold" stroke="#000" stroke-width="0.2">100</text>
<text transform="translate(401.24 308.8) scale(1.12 1)" font-size="8.2" font-weight="bold" stroke="#000" stroke-width="0.2">150</text>
<text transform="translate(438.74 308.8) scale(1.12 1)" font-size="8.2" font-weight="bold" stroke="#000" stroke-width="0.2">200</text>
<text transform="translate(476.24 308.8) scale(1.12 1)" font-size="8.2" font-weight="bold" stroke="#000" stroke-width="0.2">250</text>
<text transform="translate(342.09 322.6) scale(1.15 1)" font-size="9" font-weight="bold" fill="#000" stroke="#000" stroke-width="0.2">Storage time (days)</text>
<text transform="translate(302.59 188.85) scale(1.18 1)" font-size="6.8" font-weight="bold" fill="#000" stroke="#000" stroke-width="0.2">Ripening</text>
<text transform="translate(365.57 188.85) scale(1.21 1)" font-size="6.8" font-weight="bold" fill="#000" stroke="#000" stroke-width="0.2">Vacuum-packaged</text>
<path d="M305.88 195H331.58M345.58 195H450.98" stroke="#1c1c1c" stroke-width="1.3" stroke-dasharray="3.45 1.35"/>
<path d="M298.08 195L307.28 192.1L306.08 195L307.28 197.9Z" fill="#000"/>
<path d="M339.28 195L330.08 192.1L331.28 195L330.08 197.9Z" fill="#000"/>
<path d="M337.88 195L347.08 192.1L345.88 195L347.08 197.9Z" fill="#000"/>
<path d="M458.78 195L449.58 192.1L450.78 195L449.58 197.9Z" fill="#000"/>
<text transform="translate(463.61 206.7) scale(1.1 1)" font-size="10.6" font-weight="bold" fill="#000" stroke="#000" stroke-width="0.2">B</text>
<text transform="translate(274.4 273.78) scale(1.28 1.01) rotate(-90)" font-size="8.5" font-weight="bold" stroke="#000" stroke-width="0.2">Moisture (%)</text>
<path d="M263.6 333.6H276.9" stroke="#000000" stroke-width="1.3"/>
<ellipse cx="270.25" cy="333.6" rx="2.6" ry="2.2" fill="#000000"/>
<text transform="translate(284.5 336) scale(1.12 1)" font-size="7.1" font-weight="normal" fill="#404040">CON</text>
<path d="M307.9 333.6H321.55" stroke="#a3a3a3" stroke-width="1.3"/>
<ellipse cx="314.72" cy="333.6" rx="2.6" ry="2.2" fill="#a3a3a3"/>
<text transform="translate(328.24 336) scale(1.12 1)" font-size="7.1" font-weight="normal" fill="#404040">BHT</text>
<path d="M350.9 333.6H364.8" stroke="#8c8c8c" stroke-width="1.3"/>
<path d="M357.85 331.1L360.92 335.6L354.78 335.6Z" fill="#808080"/>
<text transform="translate(372.4 336) scale(1.12 1)" font-size="7.1" font-weight="normal" fill="#404040">CHE</text>
<text transform="translate(389.46 337.1) scale(1.19 1)" font-size="4.3" font-weight="normal" fill="#262626">50</text>
<path d="M399.5 333.6H413.1" stroke="#c6c6c6" stroke-width="1.3"/>
<path d="M406.3 336.1L409.37 331.6L403.23 331.6Z" fill="#cccccc"/>
<text transform="translate(420.6 336) scale(1.12 1)" font-size="7.1" font-weight="normal" fill="#404040">CHE</text>
<text transform="translate(437.6 337.1) scale(1.22 1)" font-size="4.3" font-weight="normal" fill="#262626">200</text>
<path d="M450.1 332.9H463.7" stroke="#646464" stroke-width="1.3"/>
<path d="M456.9 330.2L459.85 332.9L456.9 335.6L453.95 332.9Z" fill="#5c5c5c"/>
<text transform="translate(470.9 335.3) scale(1.12 1)" font-size="7.1" font-weight="normal" fill="#404040">CHE</text>
<text transform="translate(487.83 336.4) scale(1.03 1)" font-size="4.3" font-weight="normal" fill="#262626">1000</text>
<path d="M296.4 203.07L299.4 223.35L310.65 258.62L332.4 285.96L341.4 285.07L386.4 285.29L453.9 286.51" fill="none" stroke="#000000" stroke-width="1.5" stroke-linejoin="round"/>
<ellipse cx="296.4" cy="203.07" rx="2.6" ry="2.2" fill="#000000"/>
<ellipse cx="299.4" cy="223.35" rx="2.6" ry="2.2" fill="#000000"/>
<ellipse cx="310.65" cy="258.62" rx="2.6" ry="2.2" fill="#000000"/>
<ellipse cx="332.4" cy="285.96" rx="2.6" ry="2.2" fill="#000000"/>
<ellipse cx="341.4" cy="285.07" rx="2.6" ry="2.2" fill="#000000"/>
<ellipse cx="386.4" cy="285.29" rx="2.6" ry="2.2" fill="#000000"/>
<ellipse cx="453.9" cy="286.51" rx="2.6" ry="2.2" fill="#000000"/>
<path d="M296.4 203.07L299.4 226.66L310.65 253.77L332.4 277.14L341.4 285.07L386.4 282.21L453.9 276.7" fill="none" stroke="#a3a3a3" stroke-width="1.35" stroke-linejoin="round"/>
<ellipse cx="296.4" cy="203.07" rx="2.6" ry="2.2" fill="#a3a3a3"/>
<ellipse cx="299.4" cy="226.66" rx="2.6" ry="2.2" fill="#a3a3a3"/>
<ellipse cx="310.65" cy="253.77" rx="2.6" ry="2.2" fill="#a3a3a3"/>
<ellipse cx="332.4" cy="277.14" rx="2.6" ry="2.2" fill="#a3a3a3"/>
<ellipse cx="341.4" cy="285.07" rx="2.6" ry="2.2" fill="#a3a3a3"/>
<ellipse cx="386.4" cy="282.21" rx="2.6" ry="2.2" fill="#a3a3a3"/>
<ellipse cx="453.9" cy="276.7" rx="2.6" ry="2.2" fill="#a3a3a3"/>
<path d="M296.4 203.07L299.4 223.79L310.65 245.5L332.4 274.05L341.4 276.26L386.4 279.34L453.9 276.81" fill="none" stroke="#8c8c8c" stroke-width="1.35" stroke-linejoin="round"/>
<path d="M296.4 200.57L299.47 205.07L293.33 205.07Z" fill="#808080"/>
<path d="M299.4 221.29L302.47 225.79L296.33 225.79Z" fill="#808080"/>
<path d="M310.65 243L313.72 247.5L307.58 247.5Z" fill="#808080"/>
<path d="M332.4 271.55L335.47 276.05L329.33 276.05Z" fill="#808080"/>
<path d="M341.4 273.76L344.47 278.26L338.33 278.26Z" fill="#808080"/>
<path d="M386.4 276.84L389.47 281.34L383.33 281.34Z" fill="#808080"/>
<path d="M453.9 274.31L456.97 278.81L450.83 278.81Z" fill="#808080"/>
<path d="M296.4 203.07L299.4 220.92L310.65 247.6L332.4 277.14L341.4 275.15L386.4 281.11L453.9 269.2" fill="none" stroke="#c6c6c6" stroke-width="1.35" stroke-linejoin="round"/>
<path d="M296.4 205.57L299.47 201.07L293.33 201.07Z" fill="#cccccc"/>
<path d="M299.4 223.42L302.47 218.92L296.33 218.92Z" fill="#cccccc"/>
<path d="M310.65 250.1L313.72 245.6L307.58 245.6Z" fill="#cccccc"/>
<path d="M332.4 279.64L335.47 275.14L329.33 275.14Z" fill="#cccccc"/>
<path d="M341.4 277.65L344.47 273.15L338.33 273.15Z" fill="#cccccc"/>
<path d="M386.4 283.61L389.47 279.11L383.33 279.11Z" fill="#cccccc"/>
<path d="M453.9 271.7L456.97 267.2L450.83 267.2Z" fill="#cccccc"/>
<path d="M296.4 203.07L299.4 223.35L310.65 242.53L332.4 271.19L341.4 271.63L386.4 275.7L453.9 273.61" fill="none" stroke="#646464" stroke-width="1.35" stroke-linejoin="round"/>
<path d="M296.4 200.37L299.35 203.07L296.4 205.77L293.45 203.07Z" fill="#5c5c5c"/>
<path d="M299.4 220.65L302.35 223.35L299.4 226.05L296.45 223.35Z" fill="#5c5c5c"/>
<path d="M310.65 239.83L313.6 242.53L310.65 245.23L307.7 242.53Z" fill="#5c5c5c"/>
<path d="M332.4 268.49L335.35 271.19L332.4 273.89L329.45 271.19Z" fill="#5c5c5c"/>
<path d="M341.4 268.93L344.35 271.63L341.4 274.33L338.45 271.63Z" fill="#5c5c5c"/>
<path d="M386.4 273L389.35 275.7L386.4 278.4L383.45 275.7Z" fill="#5c5c5c"/>
<path d="M453.9 270.91L456.85 273.61L453.9 276.31L450.95 273.61Z" fill="#5c5c5c"/>
</g>
<g>
<path d="M556 199.4V298.6H743.5" fill="none" stroke="#000" stroke-width="1.45"/>
<path d="M552.4 298.6H556M552.4 265.53H556M552.4 232.47H556M552.4 199.4H556M556 298.6V301.6M593.5 298.6V301.6M631 298.6V301.6M668.5 298.6V301.6M706 298.6V301.6M743.5 298.6V301.6" stroke="#000" stroke-width="1.3"/>
<text transform="translate(541.56 301.19) scale(1.06 1)" font-size="8.4" font-weight="bold" fill="#000" stroke="#000" stroke-width="0.2">15</text>
<text transform="translate(541.67 268.12) scale(1.06 1)" font-size="8.4" font-weight="bold" fill="#000" stroke="#000" stroke-width="0.2">30</text>
<text transform="translate(541.56 235.06) scale(1.06 1)" font-size="8.4" font-weight="bold" fill="#000" stroke="#000" stroke-width="0.2">45</text>
<text transform="translate(541.67 201.99) scale(1.06 1)" font-size="8.4" font-weight="bold" fill="#000" stroke="#000" stroke-width="0.2">60</text>
<text transform="translate(553.45 309.1) scale(1.12 1)" font-size="8.2" font-weight="bold" stroke="#000" stroke-width="0.2">0</text>
<text transform="translate(588.39 309.1) scale(1.12 1)" font-size="8.2" font-weight="bold" stroke="#000" stroke-width="0.2">50</text>
<text transform="translate(623.34 309.1) scale(1.12 1)" font-size="8.2" font-weight="bold" stroke="#000" stroke-width="0.2">100</text>
<text transform="translate(660.84 309.1) scale(1.12 1)" font-size="8.2" font-weight="bold" stroke="#000" stroke-width="0.2">150</text>
<text transform="translate(698.34 309.1) scale(1.12 1)" font-size="8.2" font-weight="bold" stroke="#000" stroke-width="0.2">200</text>
<text transform="translate(735.84 309.1) scale(1.12 1)" font-size="8.2" font-weight="bold" stroke="#000" stroke-width="0.2">250</text>
<text transform="translate(601.49 322.9) scale(1.15 1)" font-size="9" font-weight="bold" fill="#000" stroke="#000" stroke-width="0.2">Storage time (days)</text>
<text transform="translate(563.81 188.85) scale(1.18 1)" font-size="6.8" font-weight="bold" fill="#000" stroke="#000" stroke-width="0.2">Ripening</text>
<text transform="translate(626.79 188.85) scale(1.21 1)" font-size="6.8" font-weight="bold" fill="#000" stroke="#000" stroke-width="0.2">Vacuum-packaged</text>
<path d="M567.1 195H592.8M606.8 195H712.2" stroke="#1c1c1c" stroke-width="1.3" stroke-dasharray="3.45 1.35"/>
<path d="M559.3 195L568.5 192.1L567.3 195L568.5 197.9Z" fill="#000"/>
<path d="M600.5 195L591.3 192.1L592.5 195L591.3 197.9Z" fill="#000"/>
<path d="M599.1 195L608.3 192.1L607.1 195L608.3 197.9Z" fill="#000"/>
<path d="M720 195L710.8 192.1L712 195L710.8 197.9Z" fill="#000"/>
<text transform="translate(723.58 206.9) scale(0.99 1)" font-size="10.6" font-weight="bold" fill="#000" stroke="#000" stroke-width="0.2">C</text>
<text transform="translate(534 274.08) scale(1.28 1.01) rotate(-90)" font-size="8.5" font-weight="bold" stroke="#000" stroke-width="0.2">Moisture (%)</text>
<path d="M523.4 333.7H536.7" stroke="#000000" stroke-width="1.3"/>
<ellipse cx="530.05" cy="333.7" rx="2.6" ry="2.2" fill="#000000"/>
<text transform="translate(544.3 336.1) scale(1.12 1)" font-size="7.1" font-weight="normal" fill="#404040">CON</text>
<path d="M567.7 333.7H581.35" stroke="#a3a3a3" stroke-width="1.3"/>
<ellipse cx="574.53" cy="333.7" rx="2.6" ry="2.2" fill="#a3a3a3"/>
<text transform="translate(588.04 336.1) scale(1.12 1)" font-size="7.1" font-weight="normal" fill="#404040">BHT</text>
<path d="M610.7 333.7H624.6" stroke="#8c8c8c" stroke-width="1.3"/>
<path d="M617.65 331.2L620.72 335.7L614.58 335.7Z" fill="#808080"/>
<text transform="translate(632.2 336.1) scale(1.12 1)" font-size="7.1" font-weight="normal" fill="#404040">GRA</text>
<text transform="translate(650.01 337.2) scale(1.19 1)" font-size="4.3" font-weight="normal" fill="#262626">50</text>
<path d="M659.3 333.7H672.9" stroke="#c6c6c6" stroke-width="1.3"/>
<path d="M666.1 336.2L669.17 331.7L663.03 331.7Z" fill="#cccccc"/>
<text transform="translate(680.4 336.1) scale(1.12 1)" font-size="7.1" font-weight="normal" fill="#404040">GRA</text>
<text transform="translate(698.16 337.2) scale(1.22 1)" font-size="4.3" font-weight="normal" fill="#262626">200</text>
<path d="M709.9 333H723.5" stroke="#646464" stroke-width="1.3"/>
<path d="M716.7 330.3L719.65 333L716.7 335.7L713.75 333Z" fill="#5c5c5c"/>
<text transform="translate(730.7 335.4) scale(1.12 1)" font-size="7.1" font-weight="normal" fill="#404040">GRA</text>
<text transform="translate(748.39 336.5) scale(1.03 1)" font-size="4.3" font-weight="normal" fill="#262626">1000</text>
<path d="M556 203.37L559 223.65L570.25 258.92L592 286.26L601 285.37L646 285.59L713.5 286.81" fill="none" stroke="#000000" stroke-width="1.5" stroke-linejoin="round"/>
<ellipse cx="556" cy="203.37" rx="2.6" ry="2.2" fill="#000000"/>
<ellipse cx="559" cy="223.65" rx="2.6" ry="2.2" fill="#000000"/>
<ellipse cx="570.25" cy="258.92" rx="2.6" ry="2.2" fill="#000000"/>
<ellipse cx="592" cy="286.26" rx="2.6" ry="2.2" fill="#000000"/>
<ellipse cx="601" cy="285.37" rx="2.6" ry="2.2" fill="#000000"/>
<ellipse cx="646" cy="285.59" rx="2.6" ry="2.2" fill="#000000"/>
<ellipse cx="713.5" cy="286.81" rx="2.6" ry="2.2" fill="#000000"/>
<path d="M556 203.37L559 226.96L570.25 254.07L592 277.44L601 285.37L646 282.51L713.5 277" fill="none" stroke="#a3a3a3" stroke-width="1.35" stroke-linejoin="round"/>
<ellipse cx="556" cy="203.37" rx="2.6" ry="2.2" fill="#a3a3a3"/>
<ellipse cx="559" cy="226.96" rx="2.6" ry="2.2" fill="#a3a3a3"/>
<ellipse cx="570.25" cy="254.07" rx="2.6" ry="2.2" fill="#a3a3a3"/>
<ellipse cx="592" cy="277.44" rx="2.6" ry="2.2" fill="#a3a3a3"/>
<ellipse cx="601" cy="285.37" rx="2.6" ry="2.2" fill="#a3a3a3"/>
<ellipse cx="646" cy="282.51" rx="2.6" ry="2.2" fill="#a3a3a3"/>
<ellipse cx="713.5" cy="277" rx="2.6" ry="2.2" fill="#a3a3a3"/>
<path d="M556 203.37L559 223.21L570.25 247.9L592 272.59L601 269.72L646 265.31L713.5 275.45" fill="none" stroke="#8c8c8c" stroke-width="1.35" stroke-linejoin="round"/>
<path d="M556 200.87L559.07 205.37L552.93 205.37Z" fill="#808080"/>
<path d="M559 220.71L562.07 225.21L555.93 225.21Z" fill="#808080"/>
<path d="M570.25 245.4L573.32 249.9L567.18 249.9Z" fill="#808080"/>
<path d="M592 270.09L595.07 274.59L588.93 274.59Z" fill="#808080"/>
<path d="M601 267.22L604.07 271.72L597.93 271.72Z" fill="#808080"/>
<path d="M646 262.81L649.07 267.31L642.93 267.31Z" fill="#808080"/>
<path d="M713.5 272.95L716.57 277.45L710.43 277.45Z" fill="#808080"/>
<path d="M556 203.37L559 220.12L570.25 243.05L592 263.77L601 268.84L646 275.89L713.5 275.23" fill="none" stroke="#c6c6c6" stroke-width="1.35" stroke-linejoin="round"/>
<path d="M556 205.87L559.07 201.37L552.93 201.37Z" fill="#cccccc"/>
<path d="M559 222.62L562.07 218.12L555.93 218.12Z" fill="#cccccc"/>
<path d="M570.25 245.55L573.32 241.05L567.18 241.05Z" fill="#cccccc"/>
<path d="M592 266.27L595.07 261.77L588.93 261.77Z" fill="#cccccc"/>
<path d="M601 271.34L604.07 266.84L597.93 266.84Z" fill="#cccccc"/>
<path d="M646 278.39L649.07 273.89L642.93 273.89Z" fill="#cccccc"/>
<path d="M713.5 277.73L716.57 273.23L710.43 273.23Z" fill="#cccccc"/>
<path d="M556 203.37L559 223.65L570.25 250.1L592 269.72L601 279.64L646 277L713.5 275.89" fill="none" stroke="#646464" stroke-width="1.35" stroke-linejoin="round"/>
<path d="M556 200.67L558.95 203.37L556 206.07L553.05 203.37Z" fill="#5c5c5c"/>
<path d="M559 220.95L561.95 223.65L559 226.35L556.05 223.65Z" fill="#5c5c5c"/>
<path d="M570.25 247.4L573.2 250.1L570.25 252.8L567.3 250.1Z" fill="#5c5c5c"/>
<path d="M592 267.02L594.95 269.72L592 272.42L589.05 269.72Z" fill="#5c5c5c"/>
<path d="M601 276.94L603.95 279.64L601 282.34L598.05 279.64Z" fill="#5c5c5c"/>
<path d="M646 274.3L648.95 277L646 279.7L643.05 277Z" fill="#5c5c5c"/>
<path d="M713.5 273.19L716.45 275.89L713.5 278.59L710.55 275.89Z" fill="#5c5c5c"/>
</g>
<g>
<path d="M817.6 199.1V298.3H1005.1" fill="none" stroke="#000" stroke-width="1.45"/>
<path d="M814 298.3H817.6M814 265.23H817.6M814 232.17H817.6M814 199.1H817.6M817.6 298.3V301.3M855.1 298.3V301.3M892.6 298.3V301.3M930.1 298.3V301.3M967.6 298.3V301.3M1005.1 298.3V301.3" stroke="#000" stroke-width="1.3"/>
<text transform="translate(803.16 300.89) scale(1.06 1)" font-size="8.4" font-weight="bold" fill="#000" stroke="#000" stroke-width="0.2">15</text>
<text transform="translate(803.27 267.82) scale(1.06 1)" font-size="8.4" font-weight="bold" fill="#000" stroke="#000" stroke-width="0.2">30</text>
<text transform="translate(803.16 234.76) scale(1.06 1)" font-size="8.4" font-weight="bold" fill="#000" stroke="#000" stroke-width="0.2">45</text>
<text transform="translate(803.27 201.69) scale(1.06 1)" font-size="8.4" font-weight="bold" fill="#000" stroke="#000" stroke-width="0.2">60</text>
<text transform="translate(815.05 308.8) scale(1.12 1)" font-size="8.2" font-weight="bold" stroke="#000" stroke-width="0.2">0</text>
<text transform="translate(849.99 308.8) scale(1.12 1)" font-size="8.2" font-weight="bold" stroke="#000" stroke-width="0.2">50</text>
<text transform="translate(884.94 308.8) scale(1.12 1)" font-size="8.2" font-weight="bold" stroke="#000" stroke-width="0.2">100</text>
<text transform="translate(922.44 308.8) scale(1.12 1)" font-size="8.2" font-weight="bold" stroke="#000" stroke-width="0.2">150</text>
<text transform="translate(959.94 308.8) scale(1.12 1)" font-size="8.2" font-weight="bold" stroke="#000" stroke-width="0.2">200</text>
<text transform="translate(997.44 308.8) scale(1.12 1)" font-size="8.2" font-weight="bold" stroke="#000" stroke-width="0.2">250</text>
<text transform="translate(863.09 322.6) scale(1.15 1)" font-size="9" font-weight="bold" fill="#000" stroke="#000" stroke-width="0.2">Storage time (days)</text>
<text transform="translate(825.09 188.85) scale(1.18 1)" font-size="6.8" font-weight="bold" fill="#000" stroke="#000" stroke-width="0.2">Ripening</text>
<text transform="translate(888.07 188.85) scale(1.21 1)" font-size="6.8" font-weight="bold" fill="#000" stroke="#000" stroke-width="0.2">Vacuum-packaged</text>
<path d="M828.38 195H854.08M868.08 195H973.48" stroke="#1c1c1c" stroke-width="1.3" stroke-dasharray="3.45 1.35"/>
<path d="M820.58 195L829.78 192.1L828.58 195L829.78 197.9Z" fill="#000"/>
<path d="M861.78 195L852.58 192.1L853.78 195L852.58 197.9Z" fill="#000"/>
<path d="M860.38 195L869.58 192.1L868.38 195L869.58 197.9Z" fill="#000"/>
<path d="M981.28 195L972.08 192.1L973.28 195L972.08 197.9Z" fill="#000"/>
<text transform="translate(982.34 206.7) scale(1.2 1)" font-size="10.6" font-weight="bold" fill="#000" stroke="#000" stroke-width="0.2">D</text>
<text transform="translate(795.6 273.78) scale(1.28 1.01) rotate(-90)" font-size="8.5" font-weight="bold" stroke="#000" stroke-width="0.2">Moisture (%)</text>
<path d="M784.9 333.8H798.2" stroke="#000000" stroke-width="1.3"/>
<ellipse cx="791.55" cy="333.8" rx="2.6" ry="2.2" fill="#000000"/>
<text transform="translate(805.8 336.2) scale(1.12 1)" font-size="7.1" font-weight="normal" fill="#404040">CON</text>
<path d="M829.2 333.8H842.85" stroke="#a3a3a3" stroke-width="1.3"/>
<ellipse cx="836.03" cy="333.8" rx="2.6" ry="2.2" fill="#a3a3a3"/>
<text transform="translate(849.54 336.2) scale(1.12 1)" font-size="7.1" font-weight="normal" fill="#404040">BHT</text>
<path d="M872.2 333.8H886.1" stroke="#8c8c8c" stroke-width="1.3"/>
<path d="M879.15 331.3L882.22 335.8L876.08 335.8Z" fill="#808080"/>
<text transform="translate(893.44 336.2) scale(1.12 1)" font-size="7.1" font-weight="normal" fill="#404040">BEE</text>
<text transform="translate(909.62 337.3) scale(1.19 1)" font-size="4.3" font-weight="normal" fill="#262626">50</text>
<path d="M920.8 333.8H934.4" stroke="#c6c6c6" stroke-width="1.3"/>
<path d="M927.6 336.3L930.67 331.8L924.53 331.8Z" fill="#cccccc"/>
<text transform="translate(941.64 336.2) scale(1.12 1)" font-size="7.1" font-weight="normal" fill="#404040">BEE</text>
<text transform="translate(957.77 337.3) scale(1.22 1)" font-size="4.3" font-weight="normal" fill="#262626">200</text>
<path d="M971.4 333.1H985" stroke="#646464" stroke-width="1.3"/>
<path d="M978.2 330.4L981.15 333.1L978.2 335.8L975.25 333.1Z" fill="#5c5c5c"/>
<text transform="translate(991.94 335.5) scale(1.12 1)" font-size="7.1" font-weight="normal" fill="#404040">BEE</text>
<text transform="translate(1008 336.6) scale(1.03 1)" font-size="4.3" font-weight="normal" fill="#262626">1000</text>
<path d="M817.6 203.07L820.6 223.35L831.85 258.62L853.6 285.96L862.6 285.07L907.6 285.29L975.1 286.51" fill="none" stroke="#000000" stroke-width="1.5" stroke-linejoin="round"/>
<ellipse cx="817.6" cy="203.07" rx="2.6" ry="2.2" fill="#000000"/>
<ellipse cx="820.6" cy="223.35" rx="2.6" ry="2.2" fill="#000000"/>
<ellipse cx="831.85" cy="258.62" rx="2.6" ry="2.2" fill="#000000"/>
<ellipse cx="853.6" cy="285.96" rx="2.6" ry="2.2" fill="#000000"/>
<ellipse cx="862.6" cy="285.07" rx="2.6" ry="2.2" fill="#000000"/>
<ellipse cx="907.6" cy="285.29" rx="2.6" ry="2.2" fill="#000000"/>
<ellipse cx="975.1" cy="286.51" rx="2.6" ry="2.2" fill="#000000"/>
<path d="M817.6 203.07L820.6 226.66L831.85 253.77L853.6 277.14L862.6 285.07L907.6 282.21L975.1 276.7" fill="none" stroke="#a3a3a3" stroke-width="1.35" stroke-linejoin="round"/>
<ellipse cx="817.6" cy="203.07" rx="2.6" ry="2.2" fill="#a3a3a3"/>
<ellipse cx="820.6" cy="226.66" rx="2.6" ry="2.2" fill="#a3a3a3"/>
<ellipse cx="831.85" cy="253.77" rx="2.6" ry="2.2" fill="#a3a3a3"/>
<ellipse cx="853.6" cy="277.14" rx="2.6" ry="2.2" fill="#a3a3a3"/>
<ellipse cx="862.6" cy="285.07" rx="2.6" ry="2.2" fill="#a3a3a3"/>
<ellipse cx="907.6" cy="282.21" rx="2.6" ry="2.2" fill="#a3a3a3"/>
<ellipse cx="975.1" cy="276.7" rx="2.6" ry="2.2" fill="#a3a3a3"/>
<path d="M817.6 203.07L820.6 222.69L831.85 241.54L853.6 270.08L862.6 272.07L907.6 276.7L975.1 276.04" fill="none" stroke="#8c8c8c" stroke-width="1.35" stroke-linejoin="round"/>
<path d="M817.6 200.57L820.67 205.07L814.53 205.07Z" fill="#808080"/>
<path d="M820.6 220.19L823.67 224.69L817.53 224.69Z" fill="#808080"/>
<path d="M831.85 239.04L834.92 243.54L828.78 243.54Z" fill="#808080"/>
<path d="M853.6 267.58L856.67 272.08L850.53 272.08Z" fill="#808080"/>
<path d="M862.6 269.57L865.67 274.07L859.53 274.07Z" fill="#808080"/>
<path d="M907.6 274.2L910.67 278.7L904.53 278.7Z" fill="#808080"/>
<path d="M975.1 273.54L978.17 278.04L972.03 278.04Z" fill="#808080"/>
<path d="M817.6 203.07L820.6 219.82L831.85 245.39L853.6 274.05L862.6 275.15L907.6 277.14L975.1 272.51" fill="none" stroke="#c6c6c6" stroke-width="1.35" stroke-linejoin="round"/>
<path d="M817.6 205.57L820.67 201.07L814.53 201.07Z" fill="#cccccc"/>
<path d="M820.6 222.32L823.67 217.82L817.53 217.82Z" fill="#cccccc"/>
<path d="M831.85 247.89L834.92 243.39L828.78 243.39Z" fill="#cccccc"/>
<path d="M853.6 276.55L856.67 272.05L850.53 272.05Z" fill="#cccccc"/>
<path d="M862.6 277.65L865.67 273.15L859.53 273.15Z" fill="#cccccc"/>
<path d="M907.6 279.64L910.67 275.14L904.53 275.14Z" fill="#cccccc"/>
<path d="M975.1 275.01L978.17 270.51L972.03 270.51Z" fill="#cccccc"/>
<path d="M817.6 203.07L820.6 222.25L831.85 247.38L853.6 272.07L862.6 276.7L907.6 273.39L975.1 277.58" fill="none" stroke="#646464" stroke-width="1.35" stroke-linejoin="round"/>
<path d="M817.6 200.37L820.55 203.07L817.6 205.77L814.65 203.07Z" fill="#5c5c5c"/>
<path d="M820.6 219.55L823.55 222.25L820.6 224.95L817.65 222.25Z" fill="#5c5c5c"/>
<path d="M831.85 244.68L834.8 247.38L831.85 250.08L828.9 247.38Z" fill="#5c5c5c"/>
<path d="M853.6 269.37L856.55 272.07L853.6 274.77L850.65 272.07Z" fill="#5c5c5c"/>
<path d="M862.6 274L865.55 276.7L862.6 279.4L859.65 276.7Z" fill="#5c5c5c"/>
<path d="M907.6 270.69L910.55 273.39L907.6 276.09L904.65 273.39Z" fill="#5c5c5c"/>
<path d="M975.1 274.88L978.05 277.58L975.1 280.28L972.15 277.58Z" fill="#5c5c5c"/>
</g>
<g>
<path d="M41.8 383.3V482.3H225.4" fill="none" stroke="#000" stroke-width="1.45"/>
<path d="M38.2 482.3H41.8M38.2 462.5H41.8M38.2 442.7H41.8M38.2 422.9H41.8M38.2 403.1H41.8M38.2 383.3H41.8M41.8 482.3V485.3M78.52 482.3V485.3M115.24 482.3V485.3M151.96 482.3V485.3M188.68 482.3V485.3M225.4 482.3V485.3" stroke="#000" stroke-width="1.3"/>
<text transform="translate(20.48 484.99) scale(0.99 1)" font-size="8.7" font-weight="bold" fill="#000" stroke="#000" stroke-width="0.2">0.75</text>
<text transform="translate(20.59 465.19) scale(0.99 1)" font-size="8.7" font-weight="bold" fill="#000" stroke="#000" stroke-width="0.2">0.80</text>
<text transform="translate(20.48 445.39) scale(0.99 1)" font-size="8.7" font-weight="bold" fill="#000" stroke="#000" stroke-width="0.2">0.85</text>
<text transform="translate(20.59 425.59) scale(0.99 1)" font-size="8.7" font-weight="bold" fill="#000" stroke="#000" stroke-width="0.2">0.90</text>
<text transform="translate(20.48 405.79) scale(0.99 1)" font-size="8.7" font-weight="bold" fill="#000" stroke="#000" stroke-width="0.2">0.95</text>
<text transform="translate(20.59 385.99) scale(0.99 1)" font-size="8.7" font-weight="bold" fill="#000" stroke="#000" stroke-width="0.2">1.00</text>
<text transform="translate(39.68 492.9) scale(1.1 1)" font-size="7.9" font-weight="bold" stroke="#000" stroke-width="0.2">0</text>
<text transform="translate(73.99 492.9) scale(1.1 1)" font-size="7.9" font-weight="bold" stroke="#000" stroke-width="0.2">50</text>
<text transform="translate(108.29 492.9) scale(1.1 1)" font-size="7.9" font-weight="bold" stroke="#000" stroke-width="0.2">100</text>
<text transform="translate(145.01 492.9) scale(1.1 1)" font-size="7.9" font-weight="bold" stroke="#000" stroke-width="0.2">150</text>
<text transform="translate(181.73 492.9) scale(1.1 1)" font-size="7.9" font-weight="bold" stroke="#000" stroke-width="0.2">200</text>
<text transform="translate(218.45 492.9) scale(1.1 1)" font-size="7.9" font-weight="bold" stroke="#000" stroke-width="0.2">250</text>
<text transform="translate(86.6 506.8) scale(1.11 1)" font-size="9.1" font-weight="bold" fill="#000" stroke="#000" stroke-width="0.2">Storage time (days)</text>
<text transform="translate(46.6 372) scale(1.16 1)" font-size="7" font-weight="bold" fill="#000" stroke="#000" stroke-width="0.2">Ripening</text>
<text transform="translate(109.79 372) scale(1.17 1)" font-size="7" font-weight="bold" fill="#000" stroke="#000" stroke-width="0.2">Vacuum-packaged</text>
<path d="M50.4 377.7H75.5M89.5 377.7H195.3" stroke="#1c1c1c" stroke-width="1.3" stroke-dasharray="3.45 1.35"/>
<path d="M42.6 377.7L51.8 374.8L50.6 377.7L51.8 380.6Z" fill="#000"/>
<path d="M83.2 377.7L74 374.8L75.2 377.7L74 380.6Z" fill="#000"/>
<path d="M81.8 377.7L91 374.8L89.8 377.7L91 380.6Z" fill="#000"/>
<path d="M203.1 377.7L193.9 374.8L195.1 377.7L193.9 380.6Z" fill="#000"/>
<text transform="translate(217.5 385.9) scale(1.14 1)" font-size="10.6" font-weight="bold" fill="#000" stroke="#000" stroke-width="0.2">A</text>
<text transform="translate(11.1 437.75) scale(1.4 1) rotate(-90)" font-size="8.26" font-weight="bold" stroke="#000" stroke-width="0.2">a</text>
<text transform="translate(13.3 432.58) scale(1.39 1) rotate(-90)" font-size="6" font-weight="bold" stroke="#000" stroke-width="0.2">w</text>
<path d="M9 517.4H22.55" stroke="#000000" stroke-width="1.3"/>
<ellipse cx="15.78" cy="517.4" rx="2.6" ry="2.2" fill="#000000"/>
<text transform="translate(29.71 519.9) scale(1.15 1)" font-size="6.8" font-weight="normal" fill="#404040">CON</text>
<path d="M53.2 517.4H66.1" stroke="#a3a3a3" stroke-width="1.3"/>
<ellipse cx="59.65" cy="517.4" rx="2.6" ry="2.2" fill="#a3a3a3"/>
<text transform="translate(72.95 519.9) scale(1.15 1)" font-size="6.8" font-weight="normal" fill="#404040">BHT</text>
<path d="M95 517.4H107.9" stroke="#8c8c8c" stroke-width="1.3"/>
<path d="M101.45 514.9L104.52 519.4L98.38 519.4Z" fill="#808080"/>
<text transform="translate(116.12 519.9) scale(1.15 1)" font-size="6.8" font-weight="normal" fill="#404040">TEA</text>
<text transform="translate(131.91 520.8) scale(1.25 1)" font-size="4.1" font-weight="normal" fill="#262626">50</text>
<path d="M142.6 517.4H155.5" stroke="#c6c6c6" stroke-width="1.3"/>
<path d="M149.05 519.9L152.12 515.4L145.98 515.4Z" fill="#cccccc"/>
<text transform="translate(163.02 519.9) scale(1.15 1)" font-size="6.8" font-weight="normal" fill="#404040">TEA</text>
<text transform="translate(178.75 520.8) scale(1.28 1)" font-size="4.1" font-weight="normal" fill="#262626">200</text>
<path d="M192.3 516.7H205.3" stroke="#646464" stroke-width="1.3"/>
<path d="M198.8 514L201.75 516.7L198.8 519.4L195.85 516.7Z" fill="#5c5c5c"/>
<text transform="translate(212.12 519.2) scale(1.15 1)" font-size="6.8" font-weight="normal" fill="#404040">TEA</text>
<text transform="translate(227.78 520.1) scale(1.08 1)" font-size="4.1" font-weight="normal" fill="#262626">1000</text>
<path d="M41.8 399.93L44.74 399.14L55.75 424.09L77.05 454.98L85.86 450.22L129.93 458.94L196.02 451.81" fill="none" stroke="#000000" stroke-width="1.5" stroke-linejoin="round"/>
<ellipse cx="41.8" cy="399.93" rx="2.6" ry="2.2" fill="#000000"/>
<ellipse cx="44.74" cy="399.14" rx="2.6" ry="2.2" fill="#000000"/>
<ellipse cx="55.75" cy="424.09" rx="2.6" ry="2.2" fill="#000000"/>
<ellipse cx="77.05" cy="454.98" rx="2.6" ry="2.2" fill="#000000"/>
<ellipse cx="85.86" cy="450.22" rx="2.6" ry="2.2" fill="#000000"/>
<ellipse cx="129.93" cy="458.94" rx="2.6" ry="2.2" fill="#000000"/>
<ellipse cx="196.02" cy="451.81" rx="2.6" ry="2.2" fill="#000000"/>
<path d="M41.8 399.54L44.74 398.35L55.75 418.54L77.05 444.28L85.86 449.83L129.93 458.94L196.02 436.36" fill="none" stroke="#a3a3a3" stroke-width="1.35" stroke-linejoin="round"/>
<ellipse cx="41.8" cy="399.54" rx="2.6" ry="2.2" fill="#a3a3a3"/>
<ellipse cx="44.74" cy="398.35" rx="2.6" ry="2.2" fill="#a3a3a3"/>
<ellipse cx="55.75" cy="418.54" rx="2.6" ry="2.2" fill="#a3a3a3"/>
<ellipse cx="77.05" cy="444.28" rx="2.6" ry="2.2" fill="#a3a3a3"/>
<ellipse cx="85.86" cy="449.83" rx="2.6" ry="2.2" fill="#a3a3a3"/>
<ellipse cx="129.93" cy="458.94" rx="2.6" ry="2.2" fill="#a3a3a3"/>
<ellipse cx="196.02" cy="436.36" rx="2.6" ry="2.2" fill="#a3a3a3"/>
<path d="M41.8 399.14L44.74 397.95L55.75 411.42L77.05 432.01L85.86 423.69L129.93 458.54L196.02 437.95" fill="none" stroke="#8c8c8c" stroke-width="1.35" stroke-linejoin="round"/>
<path d="M41.8 396.64L44.87 401.14L38.73 401.14Z" fill="#808080"/>
<path d="M44.74 395.45L47.81 399.95L41.67 399.95Z" fill="#808080"/>
<path d="M55.75 408.92L58.82 413.42L52.69 413.42Z" fill="#808080"/>
<path d="M77.05 429.51L80.12 434.01L73.98 434.01Z" fill="#808080"/>
<path d="M85.86 421.19L88.93 425.69L82.8 425.69Z" fill="#808080"/>
<path d="M129.93 456.04L133 460.54L126.86 460.54Z" fill="#808080"/>
<path d="M196.02 435.45L199.09 439.95L192.96 439.95Z" fill="#808080"/>
<path d="M41.8 399.14L44.74 397.95L55.75 407.46L77.05 434.78L85.86 417.36L129.93 458.94L196.02 438.74" fill="none" stroke="#c6c6c6" stroke-width="1.35" stroke-linejoin="round"/>
<path d="M41.8 401.64L44.87 397.14L38.73 397.14Z" fill="#cccccc"/>
<path d="M44.74 400.45L47.81 395.95L41.67 395.95Z" fill="#cccccc"/>
<path d="M55.75 409.96L58.82 405.46L52.69 405.46Z" fill="#cccccc"/>
<path d="M77.05 437.28L80.12 432.78L73.98 432.78Z" fill="#cccccc"/>
<path d="M85.86 419.86L88.93 415.36L82.8 415.36Z" fill="#cccccc"/>
<path d="M129.93 461.44L133 456.94L126.86 456.94Z" fill="#cccccc"/>
<path d="M196.02 441.24L199.09 436.74L192.96 436.74Z" fill="#cccccc"/>
<path d="M41.8 399.14L44.74 397.95L55.75 417.75L77.05 448.64L85.86 440.72L129.93 469.23L196.02 441.51" fill="none" stroke="#646464" stroke-width="1.35" stroke-linejoin="round"/>
<path d="M41.8 396.44L44.75 399.14L41.8 401.84L38.85 399.14Z" fill="#5c5c5c"/>
<path d="M44.74 395.25L47.69 397.95L44.74 400.65L41.79 397.95Z" fill="#5c5c5c"/>
<path d="M55.75 415.05L58.7 417.75L55.75 420.45L52.8 417.75Z" fill="#5c5c5c"/>
<path d="M77.05 445.94L80 448.64L77.05 451.34L74.1 448.64Z" fill="#5c5c5c"/>
<path d="M85.86 438.02L88.81 440.72L85.86 443.42L82.91 440.72Z" fill="#5c5c5c"/>
<path d="M129.93 466.53L132.88 469.23L129.93 471.93L126.98 469.23Z" fill="#5c5c5c"/>
<path d="M196.02 438.81L198.97 441.51L196.02 444.21L193.07 441.51Z" fill="#5c5c5c"/>
</g>
<g>
<path d="M307.5 383.8V482.8H491.1" fill="none" stroke="#000" stroke-width="1.45"/>
<path d="M303.9 482.8H307.5M303.9 463H307.5M303.9 443.2H307.5M303.9 423.4H307.5M303.9 403.6H307.5M303.9 383.8H307.5M307.5 482.8V485.8M344.22 482.8V485.8M380.94 482.8V485.8M417.66 482.8V485.8M454.38 482.8V485.8M491.1 482.8V485.8" stroke="#000" stroke-width="1.3"/>
<text transform="translate(286.18 485.49) scale(0.99 1)" font-size="8.7" font-weight="bold" fill="#000" stroke="#000" stroke-width="0.2">0.75</text>
<text transform="translate(286.29 465.69) scale(0.99 1)" font-size="8.7" font-weight="bold" fill="#000" stroke="#000" stroke-width="0.2">0.80</text>
<text transform="translate(286.18 445.89) scale(0.99 1)" font-size="8.7" font-weight="bold" fill="#000" stroke="#000" stroke-width="0.2">0.85</text>
<text transform="translate(286.29 426.09) scale(0.99 1)" font-size="8.7" font-weight="bold" fill="#000" stroke="#000" stroke-width="0.2">0.90</text>
<text transform="translate(286.18 406.29) scale(0.99 1)" font-size="8.7" font-weight="bold" fill="#000" stroke="#000" stroke-width="0.2">0.95</text>
<text transform="translate(286.29 386.49) scale(0.99 1)" font-size="8.7" font-weight="bold" fill="#000" stroke="#000" stroke-width="0.2">1.00</text>
<text transform="translate(305.38 493.4) scale(1.1 1)" font-size="7.9" font-weight="bold" stroke="#000" stroke-width="0.2">0</text>
<text transform="translate(339.69 493.4) scale(1.1 1)" font-size="7.9" font-weight="bold" stroke="#000" stroke-width="0.2">50</text>
<text transform="translate(373.99 493.4) scale(1.1 1)" font-size="7.9" font-weight="bold" stroke="#000" stroke-width="0.2">100</text>
<text transform="translate(410.71 493.4) scale(1.1 1)" font-size="7.9" font-weight="bold" stroke="#000" stroke-width="0.2">150</text>
<text transform="translate(447.43 493.4) scale(1.1 1)" font-size="7.9" font-weight="bold" stroke="#000" stroke-width="0.2">200</text>
<text transform="translate(484.15 493.4) scale(1.1 1)" font-size="7.9" font-weight="bold" stroke="#000" stroke-width="0.2">250</text>
<text transform="translate(352.2 507.3) scale(1.11 1)" font-size="9.1" font-weight="bold" fill="#000" stroke="#000" stroke-width="0.2">Storage time (days)</text>
<text transform="translate(312.67 372) scale(1.16 1)" font-size="7" font-weight="bold" fill="#000" stroke="#000" stroke-width="0.2">Ripening</text>
<text transform="translate(375.86 372) scale(1.17 1)" font-size="7" font-weight="bold" fill="#000" stroke="#000" stroke-width="0.2">Vacuum-packaged</text>
<path d="M316.47 377.7H341.57M355.57 377.7H461.37" stroke="#1c1c1c" stroke-width="1.3" stroke-dasharray="3.45 1.35"/>
<path d="M308.67 377.7L317.87 374.8L316.67 377.7L317.87 380.6Z" fill="#000"/>
<path d="M349.27 377.7L340.07 374.8L341.27 377.7L340.07 380.6Z" fill="#000"/>
<path d="M347.87 377.7L357.07 374.8L355.87 377.7L357.07 380.6Z" fill="#000"/>
<path d="M469.17 377.7L459.97 374.8L461.17 377.7L459.97 380.6Z" fill="#000"/>
<text transform="translate(477.57 385.95) scale(1.02 1)" font-size="10.6" font-weight="bold" fill="#000" stroke="#000" stroke-width="0.2">B</text>
<text transform="translate(276.8 438.25) scale(1.4 1) rotate(-90)" font-size="8.26" font-weight="bold" stroke="#000" stroke-width="0.2">a</text>
<text transform="translate(279 433.08) scale(1.39 1) rotate(-90)" font-size="6" font-weight="bold" stroke="#000" stroke-width="0.2">w</text>
<path d="M275 518H288.55" stroke="#000000" stroke-width="1.3"/>
<ellipse cx="281.77" cy="518" rx="2.6" ry="2.2" fill="#000000"/>
<text transform="translate(295.71 520.5) scale(1.15 1)" font-size="6.8" font-weight="normal" fill="#404040">CON</text>
<path d="M319.2 518H332.1" stroke="#a3a3a3" stroke-width="1.3"/>
<ellipse cx="325.65" cy="518" rx="2.6" ry="2.2" fill="#a3a3a3"/>
<text transform="translate(338.95 520.5) scale(1.15 1)" font-size="6.8" font-weight="normal" fill="#404040">BHT</text>
<path d="M361 518H373.9" stroke="#8c8c8c" stroke-width="1.3"/>
<path d="M367.45 515.5L370.52 520L364.38 520Z" fill="#808080"/>
<text transform="translate(381.91 520.5) scale(1.15 1)" font-size="6.8" font-weight="normal" fill="#404040">CHE</text>
<text transform="translate(398.69 521.4) scale(1.25 1)" font-size="4.1" font-weight="normal" fill="#262626">50</text>
<path d="M408.6 518H421.5" stroke="#c6c6c6" stroke-width="1.3"/>
<path d="M415.05 520.5L418.12 516L411.98 516Z" fill="#cccccc"/>
<text transform="translate(428.81 520.5) scale(1.15 1)" font-size="6.8" font-weight="normal" fill="#404040">CHE</text>
<text transform="translate(445.53 521.4) scale(1.28 1)" font-size="4.1" font-weight="normal" fill="#262626">200</text>
<path d="M458.3 517.3H471.3" stroke="#646464" stroke-width="1.3"/>
<path d="M464.8 514.6L467.75 517.3L464.8 520L461.85 517.3Z" fill="#5c5c5c"/>
<text transform="translate(477.91 519.8) scale(1.15 1)" font-size="6.8" font-weight="normal" fill="#404040">CHE</text>
<text transform="translate(494.57 520.7) scale(1.08 1)" font-size="4.1" font-weight="normal" fill="#262626">1000</text>
<path d="M307.5 400.43L310.44 399.64L321.45 424.59L342.75 455.48L351.56 450.72L395.63 459.44L461.72 452.31" fill="none" stroke="#000000" stroke-width="1.5" stroke-linejoin="round"/>
<ellipse cx="307.5" cy="400.43" rx="2.6" ry="2.2" fill="#000000"/>
<ellipse cx="310.44" cy="399.64" rx="2.6" ry="2.2" fill="#000000"/>
<ellipse cx="321.45" cy="424.59" rx="2.6" ry="2.2" fill="#000000"/>
<ellipse cx="342.75" cy="455.48" rx="2.6" ry="2.2" fill="#000000"/>
<ellipse cx="351.56" cy="450.72" rx="2.6" ry="2.2" fill="#000000"/>
<ellipse cx="395.63" cy="459.44" rx="2.6" ry="2.2" fill="#000000"/>
<ellipse cx="461.72" cy="452.31" rx="2.6" ry="2.2" fill="#000000"/>
<path d="M307.5 400.04L310.44 398.85L321.45 419.04L342.75 444.78L351.56 450.33L395.63 459.44L461.72 436.86" fill="none" stroke="#a3a3a3" stroke-width="1.35" stroke-linejoin="round"/>
<ellipse cx="307.5" cy="400.04" rx="2.6" ry="2.2" fill="#a3a3a3"/>
<ellipse cx="310.44" cy="398.85" rx="2.6" ry="2.2" fill="#a3a3a3"/>
<ellipse cx="321.45" cy="419.04" rx="2.6" ry="2.2" fill="#a3a3a3"/>
<ellipse cx="342.75" cy="444.78" rx="2.6" ry="2.2" fill="#a3a3a3"/>
<ellipse cx="351.56" cy="450.33" rx="2.6" ry="2.2" fill="#a3a3a3"/>
<ellipse cx="395.63" cy="459.44" rx="2.6" ry="2.2" fill="#a3a3a3"/>
<ellipse cx="461.72" cy="436.86" rx="2.6" ry="2.2" fill="#a3a3a3"/>
<path d="M307.5 399.64L310.44 398.45L321.45 420.63L342.75 441.22L351.56 434.49L395.63 464.98L461.72 441.22" fill="none" stroke="#8c8c8c" stroke-width="1.35" stroke-linejoin="round"/>
<path d="M307.5 397.14L310.57 401.64L304.43 401.64Z" fill="#808080"/>
<path d="M310.44 395.95L313.51 400.45L307.37 400.45Z" fill="#808080"/>
<path d="M321.45 418.13L324.52 422.63L318.39 422.63Z" fill="#808080"/>
<path d="M342.75 438.72L345.82 443.22L339.68 443.22Z" fill="#808080"/>
<path d="M351.56 431.99L354.63 436.49L348.5 436.49Z" fill="#808080"/>
<path d="M395.63 462.48L398.7 466.98L392.56 466.98Z" fill="#808080"/>
<path d="M461.72 438.72L464.79 443.22L458.66 443.22Z" fill="#808080"/>
<path d="M307.5 399.64L310.44 398.45L321.45 417.06L342.75 436.86L351.56 431.72L395.63 455.08L461.72 428.15" fill="none" stroke="#c6c6c6" stroke-width="1.35" stroke-linejoin="round"/>
<path d="M307.5 402.14L310.57 397.64L304.43 397.64Z" fill="#cccccc"/>
<path d="M310.44 400.95L313.51 396.45L307.37 396.45Z" fill="#cccccc"/>
<path d="M321.45 419.56L324.52 415.06L318.39 415.06Z" fill="#cccccc"/>
<path d="M342.75 439.36L345.82 434.86L339.68 434.86Z" fill="#cccccc"/>
<path d="M351.56 434.22L354.63 429.72L348.5 429.72Z" fill="#cccccc"/>
<path d="M395.63 457.58L398.7 453.08L392.56 453.08Z" fill="#cccccc"/>
<path d="M461.72 430.65L464.79 426.15L458.66 426.15Z" fill="#cccccc"/>
<path d="M307.5 399.64L310.44 398.45L321.45 410.33L342.75 431.72L351.56 425.78L395.63 450.72L461.72 433.3" fill="none" stroke="#646464" stroke-width="1.35" stroke-linejoin="round"/>
<path d="M307.5 396.94L310.45 399.64L307.5 402.34L304.55 399.64Z" fill="#5c5c5c"/>
<path d="M310.44 395.75L313.39 398.45L310.44 401.15L307.49 398.45Z" fill="#5c5c5c"/>
<path d="M321.45 407.63L324.4 410.33L321.45 413.03L318.5 410.33Z" fill="#5c5c5c"/>
<path d="M342.75 429.02L345.7 431.72L342.75 434.42L339.8 431.72Z" fill="#5c5c5c"/>
<path d="M351.56 423.08L354.51 425.78L351.56 428.48L348.61 425.78Z" fill="#5c5c5c"/>
<path d="M395.63 448.02L398.58 450.72L395.63 453.42L392.68 450.72Z" fill="#5c5c5c"/>
<path d="M461.72 430.6L464.67 433.3L461.72 436L458.77 433.3Z" fill="#5c5c5c"/>
</g>
<g>
<path d="M559.8 383.3V482.3H743.4" fill="none" stroke="#000" stroke-width="1.45"/>
<path d="M556.2 482.3H559.8M556.2 462.5H559.8M556.2 442.7H559.8M556.2 422.9H559.8M556.2 403.1H559.8M556.2 383.3H559.8M559.8 482.3V485.3M596.52 482.3V485.3M633.24 482.3V485.3M669.96 482.3V485.3M706.68 482.3V485.3M743.4 482.3V485.3" stroke="#000" stroke-width="1.3"/>
<text transform="translate(538.48 484.99) scale(0.99 1)" font-size="8.7" font-weight="bold" fill="#000" stroke="#000" stroke-width="0.2">0.75</text>
<text transform="translate(538.59 465.19) scale(0.99 1)" font-size="8.7" font-weight="bold" fill="#000" stroke="#000" stroke-width="0.2">0.80</text>
<text transform="translate(538.48 445.39) scale(0.99 1)" font-size="8.7" font-weight="bold" fill="#000" stroke="#000" stroke-width="0.2">0.85</text>
<text transform="translate(538.59 425.59) scale(0.99 1)" font-size="8.7" font-weight="bold" fill="#000" stroke="#000" stroke-width="0.2">0.90</text>
<text transform="translate(538.48 405.79) scale(0.99 1)" font-size="8.7" font-weight="bold" fill="#000" stroke="#000" stroke-width="0.2">0.95</text>
<text transform="translate(538.59 385.99) scale(0.99 1)" font-size="8.7" font-weight="bold" fill="#000" stroke="#000" stroke-width="0.2">1.00</text>
<text transform="translate(557.68 492.9) scale(1.1 1)" font-size="7.9" font-weight="bold" stroke="#000" stroke-width="0.2">0</text>
<text transform="translate(591.99 492.9) scale(1.1 1)" font-size="7.9" font-weight="bold" stroke="#000" stroke-width="0.2">50</text>
<text transform="translate(626.29 492.9) scale(1.1 1)" font-size="7.9" font-weight="bold" stroke="#000" stroke-width="0.2">100</text>
<text transform="translate(663.01 492.9) scale(1.1 1)" font-size="7.9" font-weight="bold" stroke="#000" stroke-width="0.2">150</text>
<text transform="translate(699.73 492.9) scale(1.1 1)" font-size="7.9" font-weight="bold" stroke="#000" stroke-width="0.2">200</text>
<text transform="translate(736.45 492.9) scale(1.1 1)" font-size="7.9" font-weight="bold" stroke="#000" stroke-width="0.2">250</text>
<text transform="translate(604.6 506.8) scale(1.11 1)" font-size="9.1" font-weight="bold" fill="#000" stroke="#000" stroke-width="0.2">Storage time (days)</text>
<text transform="translate(564.67 372) scale(1.16 1)" font-size="7" font-weight="bold" fill="#000" stroke="#000" stroke-width="0.2">Ripening</text>
<text transform="translate(627.86 372) scale(1.17 1)" font-size="7" font-weight="bold" fill="#000" stroke="#000" stroke-width="0.2">Vacuum-packaged</text>
<path d="M568.47 377.7H593.57M607.57 377.7H713.37" stroke="#1c1c1c" stroke-width="1.3" stroke-dasharray="3.45 1.35"/>
<path d="M560.67 377.7L569.87 374.8L568.67 377.7L569.87 380.6Z" fill="#000"/>
<path d="M601.27 377.7L592.07 374.8L593.27 377.7L592.07 380.6Z" fill="#000"/>
<path d="M599.87 377.7L609.07 374.8L607.87 377.7L609.07 380.6Z" fill="#000"/>
<path d="M721.17 377.7L711.97 374.8L713.17 377.7L711.97 380.6Z" fill="#000"/>
<text transform="translate(726.68 386.1) scale(0.99 1)" font-size="10.6" font-weight="bold" fill="#000" stroke="#000" stroke-width="0.2">C</text>
<text transform="translate(529.1 437.75) scale(1.4 1) rotate(-90)" font-size="8.26" font-weight="bold" stroke="#000" stroke-width="0.2">a</text>
<text transform="translate(531.3 432.58) scale(1.39 1) rotate(-90)" font-size="6" font-weight="bold" stroke="#000" stroke-width="0.2">w</text>
<path d="M527.2 517.4H540.75" stroke="#000000" stroke-width="1.3"/>
<ellipse cx="533.98" cy="517.4" rx="2.6" ry="2.2" fill="#000000"/>
<text transform="translate(547.91 519.9) scale(1.15 1)" font-size="6.8" font-weight="normal" fill="#404040">CON</text>
<path d="M571.4 517.4H584.3" stroke="#a3a3a3" stroke-width="1.3"/>
<ellipse cx="577.85" cy="517.4" rx="2.6" ry="2.2" fill="#a3a3a3"/>
<text transform="translate(591.15 519.9) scale(1.15 1)" font-size="6.8" font-weight="normal" fill="#404040">BHT</text>
<path d="M613.2 517.4H626.1" stroke="#8c8c8c" stroke-width="1.3"/>
<path d="M619.65 514.9L622.72 519.4L616.58 519.4Z" fill="#808080"/>
<text transform="translate(634.11 519.9) scale(1.15 1)" font-size="6.8" font-weight="normal" fill="#404040">GRA</text>
<text transform="translate(651.63 520.8) scale(1.25 1)" font-size="4.1" font-weight="normal" fill="#262626">50</text>
<path d="M660.8 517.4H673.7" stroke="#c6c6c6" stroke-width="1.3"/>
<path d="M667.25 519.9L670.32 515.4L664.18 515.4Z" fill="#cccccc"/>
<text transform="translate(681.01 519.9) scale(1.15 1)" font-size="6.8" font-weight="normal" fill="#404040">GRA</text>
<text transform="translate(698.48 520.8) scale(1.28 1)" font-size="4.1" font-weight="normal" fill="#262626">200</text>
<path d="M710.5 516.7H723.5" stroke="#646464" stroke-width="1.3"/>
<path d="M717 514L719.95 516.7L717 519.4L714.05 516.7Z" fill="#5c5c5c"/>
<text transform="translate(730.11 519.2) scale(1.15 1)" font-size="6.8" font-weight="normal" fill="#404040">GRA</text>
<text transform="translate(747.51 520.1) scale(1.08 1)" font-size="4.1" font-weight="normal" fill="#262626">1000</text>
<path d="M559.8 399.93L562.74 399.14L573.75 424.09L595.05 454.98L603.86 450.22L647.93 458.94L714.02 451.81" fill="none" stroke="#000000" stroke-width="1.5" stroke-linejoin="round"/>
<ellipse cx="559.8" cy="399.93" rx="2.6" ry="2.2" fill="#000000"/>
<ellipse cx="562.74" cy="399.14" rx="2.6" ry="2.2" fill="#000000"/>
<ellipse cx="573.75" cy="424.09" rx="2.6" ry="2.2" fill="#000000"/>
<ellipse cx="595.05" cy="454.98" rx="2.6" ry="2.2" fill="#000000"/>
<ellipse cx="603.86" cy="450.22" rx="2.6" ry="2.2" fill="#000000"/>
<ellipse cx="647.93" cy="458.94" rx="2.6" ry="2.2" fill="#000000"/>
<ellipse cx="714.02" cy="451.81" rx="2.6" ry="2.2" fill="#000000"/>
<path d="M559.8 399.54L562.74 398.35L573.75 418.54L595.05 444.28L603.86 449.83L647.93 458.94L714.02 436.36" fill="none" stroke="#a3a3a3" stroke-width="1.35" stroke-linejoin="round"/>
<ellipse cx="559.8" cy="399.54" rx="2.6" ry="2.2" fill="#a3a3a3"/>
<ellipse cx="562.74" cy="398.35" rx="2.6" ry="2.2" fill="#a3a3a3"/>
<ellipse cx="573.75" cy="418.54" rx="2.6" ry="2.2" fill="#a3a3a3"/>
<ellipse cx="595.05" cy="444.28" rx="2.6" ry="2.2" fill="#a3a3a3"/>
<ellipse cx="603.86" cy="449.83" rx="2.6" ry="2.2" fill="#a3a3a3"/>
<ellipse cx="647.93" cy="458.94" rx="2.6" ry="2.2" fill="#a3a3a3"/>
<ellipse cx="714.02" cy="436.36" rx="2.6" ry="2.2" fill="#a3a3a3"/>
<path d="M559.8 399.14L562.74 397.95L573.75 414.19L595.05 433.99L603.86 426.07L647.93 432.4L714.02 432.4" fill="none" stroke="#8c8c8c" stroke-width="1.35" stroke-linejoin="round"/>
<path d="M559.8 396.64L562.87 401.14L556.73 401.14Z" fill="#808080"/>
<path d="M562.74 395.45L565.81 399.95L559.67 399.95Z" fill="#808080"/>
<path d="M573.75 411.69L576.82 416.19L570.69 416.19Z" fill="#808080"/>
<path d="M595.05 431.49L598.12 435.99L591.98 435.99Z" fill="#808080"/>
<path d="M603.86 423.57L606.93 428.07L600.8 428.07Z" fill="#808080"/>
<path d="M647.93 429.9L651 434.4L644.86 434.4Z" fill="#808080"/>
<path d="M714.02 429.9L717.09 434.4L710.96 434.4Z" fill="#808080"/>
<path d="M559.8 399.14L562.74 397.95L573.75 412.6L595.05 421.71L603.86 421.71L647.93 441.51L714.02 435.57" fill="none" stroke="#c6c6c6" stroke-width="1.35" stroke-linejoin="round"/>
<path d="M559.8 401.64L562.87 397.14L556.73 397.14Z" fill="#cccccc"/>
<path d="M562.74 400.45L565.81 395.95L559.67 395.95Z" fill="#cccccc"/>
<path d="M573.75 415.1L576.82 410.6L570.69 410.6Z" fill="#cccccc"/>
<path d="M595.05 424.21L598.12 419.71L591.98 419.71Z" fill="#cccccc"/>
<path d="M603.86 424.21L606.93 419.71L600.8 419.71Z" fill="#cccccc"/>
<path d="M647.93 444.01L651 439.51L644.86 439.51Z" fill="#cccccc"/>
<path d="M714.02 438.07L717.09 433.57L710.96 433.57Z" fill="#cccccc"/>
<path d="M559.8 399.14L562.74 397.95L573.75 412.6L595.05 431.22L603.86 437.16L647.93 444.68L714.02 432.01" fill="none" stroke="#646464" stroke-width="1.35" stroke-linejoin="round"/>
<path d="M559.8 396.44L562.75 399.14L559.8 401.84L556.85 399.14Z" fill="#5c5c5c"/>
<path d="M562.74 395.25L565.69 397.95L562.74 400.65L559.79 397.95Z" fill="#5c5c5c"/>
<path d="M573.75 409.9L576.7 412.6L573.75 415.3L570.8 412.6Z" fill="#5c5c5c"/>
<path d="M595.05 428.52L598 431.22L595.05 433.92L592.1 431.22Z" fill="#5c5c5c"/>
<path d="M603.86 434.46L606.81 437.16L603.86 439.86L600.91 437.16Z" fill="#5c5c5c"/>
<path d="M647.93 441.98L650.88 444.68L647.93 447.38L644.98 444.68Z" fill="#5c5c5c"/>
<path d="M714.02 429.31L716.97 432.01L714.02 434.71L711.07 432.01Z" fill="#5c5c5c"/>
</g>
<g>
<path d="M817.5 383.2V482.2H1001.1" fill="none" stroke="#000" stroke-width="1.45"/>
<path d="M813.9 482.2H817.5M813.9 462.4H817.5M813.9 442.6H817.5M813.9 422.8H817.5M813.9 403H817.5M813.9 383.2H817.5M817.5 482.2V485.2M854.22 482.2V485.2M890.94 482.2V485.2M927.66 482.2V485.2M964.38 482.2V485.2M1001.1 482.2V485.2" stroke="#000" stroke-width="1.3"/>
<text transform="translate(796.18 484.89) scale(0.99 1)" font-size="8.7" font-weight="bold" fill="#000" stroke="#000" stroke-width="0.2">0.75</text>
<text transform="translate(796.29 465.09) scale(0.99 1)" font-size="8.7" font-weight="bold" fill="#000" stroke="#000" stroke-width="0.2">0.80</text>
<text transform="translate(796.18 445.29) scale(0.99 1)" font-size="8.7" font-weight="bold" fill="#000" stroke="#000" stroke-width="0.2">0.85</text>
<text transform="translate(796.29 425.49) scale(0.99 1)" font-size="8.7" font-weight="bold" fill="#000" stroke="#000" stroke-width="0.2">0.90</text>
<text transform="translate(796.18 405.69) scale(0.99 1)" font-size="8.7" font-weight="bold" fill="#000" stroke="#000" stroke-width="0.2">0.95</text>
<text transform="translate(796.29 385.89) scale(0.99 1)" font-size="8.7" font-weight="bold" fill="#000" stroke="#000" stroke-width="0.2">1.00</text>
<text transform="translate(815.38 492.8) scale(1.1 1)" font-size="7.9" font-weight="bold" stroke="#000" stroke-width="0.2">0</text>
<text transform="translate(849.69 492.8) scale(1.1 1)" font-size="7.9" font-weight="bold" stroke="#000" stroke-width="0.2">50</text>
<text transform="translate(883.99 492.8) scale(1.1 1)" font-size="7.9" font-weight="bold" stroke="#000" stroke-width="0.2">100</text>
<text transform="translate(920.71 492.8) scale(1.1 1)" font-size="7.9" font-weight="bold" stroke="#000" stroke-width="0.2">150</text>
<text transform="translate(957.43 492.8) scale(1.1 1)" font-size="7.9" font-weight="bold" stroke="#000" stroke-width="0.2">200</text>
<text transform="translate(994.15 492.8) scale(1.1 1)" font-size="7.9" font-weight="bold" stroke="#000" stroke-width="0.2">250</text>
<text transform="translate(861.7 506.7) scale(1.11 1)" font-size="9.1" font-weight="bold" fill="#000" stroke="#000" stroke-width="0.2">Storage time (days)</text>
<text transform="translate(824.89 372) scale(1.16 1)" font-size="7" font-weight="bold" fill="#000" stroke="#000" stroke-width="0.2">Ripening</text>
<text transform="translate(888.08 372) scale(1.17 1)" font-size="7" font-weight="bold" fill="#000" stroke="#000" stroke-width="0.2">Vacuum-packaged</text>
<path d="M828.69 377.7H853.79M867.79 377.7H973.59" stroke="#1c1c1c" stroke-width="1.3" stroke-dasharray="3.45 1.35"/>
<path d="M820.89 377.7L830.09 374.8L828.89 377.7L830.09 380.6Z" fill="#000"/>
<path d="M861.49 377.7L852.29 374.8L853.49 377.7L852.29 380.6Z" fill="#000"/>
<path d="M860.09 377.7L869.29 374.8L868.09 377.7L869.29 380.6Z" fill="#000"/>
<path d="M981.39 377.7L972.19 374.8L973.39 377.7L972.19 380.6Z" fill="#000"/>
<text transform="translate(985.34 385.95) scale(1.2 1)" font-size="10.6" font-weight="bold" fill="#000" stroke="#000" stroke-width="0.2">D</text>
<text transform="translate(786.8 437.65) scale(1.4 1) rotate(-90)" font-size="8.26" font-weight="bold" stroke="#000" stroke-width="0.2">a</text>
<text transform="translate(789 432.48) scale(1.39 1) rotate(-90)" font-size="6" font-weight="bold" stroke="#000" stroke-width="0.2">w</text>
<path d="M784.5 517.4H798.05" stroke="#000000" stroke-width="1.3"/>
<ellipse cx="791.27" cy="517.4" rx="2.6" ry="2.2" fill="#000000"/>
<text transform="translate(805.21 519.9) scale(1.15 1)" font-size="6.8" font-weight="normal" fill="#404040">CON</text>
<path d="M828.7 517.4H841.6" stroke="#a3a3a3" stroke-width="1.3"/>
<ellipse cx="835.15" cy="517.4" rx="2.6" ry="2.2" fill="#a3a3a3"/>
<text transform="translate(848.45 519.9) scale(1.15 1)" font-size="6.8" font-weight="normal" fill="#404040">BHT</text>
<path d="M870.5 517.4H883.4" stroke="#8c8c8c" stroke-width="1.3"/>
<path d="M876.95 514.9L880.02 519.4L873.88 519.4Z" fill="#808080"/>
<text transform="translate(891.15 519.9) scale(1.15 1)" font-size="6.8" font-weight="normal" fill="#404040">BEE</text>
<text transform="translate(907.08 520.8) scale(1.25 1)" font-size="4.1" font-weight="normal" fill="#262626">50</text>
<path d="M918.1 517.4H931" stroke="#c6c6c6" stroke-width="1.3"/>
<path d="M924.55 519.9L927.62 515.4L921.48 515.4Z" fill="#cccccc"/>
<text transform="translate(938.05 519.9) scale(1.15 1)" font-size="6.8" font-weight="normal" fill="#404040">BEE</text>
<text transform="translate(953.92 520.8) scale(1.28 1)" font-size="4.1" font-weight="normal" fill="#262626">200</text>
<path d="M967.8 516.7H980.8" stroke="#646464" stroke-width="1.3"/>
<path d="M974.3 514L977.25 516.7L974.3 519.4L971.35 516.7Z" fill="#5c5c5c"/>
<text transform="translate(987.15 519.2) scale(1.15 1)" font-size="6.8" font-weight="normal" fill="#404040">BEE</text>
<text transform="translate(1002.95 520.1) scale(1.08 1)" font-size="4.1" font-weight="normal" fill="#262626">1000</text>
<path d="M817.5 399.83L820.44 399.04L831.45 423.99L852.75 454.88L861.56 450.12L905.63 458.84L971.72 451.71" fill="none" stroke="#000000" stroke-width="1.5" stroke-linejoin="round"/>
<ellipse cx="817.5" cy="399.83" rx="2.6" ry="2.2" fill="#000000"/>
<ellipse cx="820.44" cy="399.04" rx="2.6" ry="2.2" fill="#000000"/>
<ellipse cx="831.45" cy="423.99" rx="2.6" ry="2.2" fill="#000000"/>
<ellipse cx="852.75" cy="454.88" rx="2.6" ry="2.2" fill="#000000"/>
<ellipse cx="861.56" cy="450.12" rx="2.6" ry="2.2" fill="#000000"/>
<ellipse cx="905.63" cy="458.84" rx="2.6" ry="2.2" fill="#000000"/>
<ellipse cx="971.72" cy="451.71" rx="2.6" ry="2.2" fill="#000000"/>
<path d="M817.5 399.44L820.44 398.25L831.45 418.44L852.75 444.18L861.56 449.73L905.63 458.84L971.72 436.26" fill="none" stroke="#a3a3a3" stroke-width="1.35" stroke-linejoin="round"/>
<ellipse cx="817.5" cy="399.44" rx="2.6" ry="2.2" fill="#a3a3a3"/>
<ellipse cx="820.44" cy="398.25" rx="2.6" ry="2.2" fill="#a3a3a3"/>
<ellipse cx="831.45" cy="418.44" rx="2.6" ry="2.2" fill="#a3a3a3"/>
<ellipse cx="852.75" cy="444.18" rx="2.6" ry="2.2" fill="#a3a3a3"/>
<ellipse cx="861.56" cy="449.73" rx="2.6" ry="2.2" fill="#a3a3a3"/>
<ellipse cx="905.63" cy="458.84" rx="2.6" ry="2.2" fill="#a3a3a3"/>
<ellipse cx="971.72" cy="436.26" rx="2.6" ry="2.2" fill="#a3a3a3"/>
<path d="M817.5 399.04L820.44 397.85L831.45 409.73L852.75 433.1L861.56 426.76L905.63 444.18L971.72 435.47" fill="none" stroke="#8c8c8c" stroke-width="1.35" stroke-linejoin="round"/>
<path d="M817.5 396.54L820.57 401.04L814.43 401.04Z" fill="#808080"/>
<path d="M820.44 395.35L823.51 399.85L817.37 399.85Z" fill="#808080"/>
<path d="M831.45 407.23L834.52 411.73L828.39 411.73Z" fill="#808080"/>
<path d="M852.75 430.6L855.82 435.1L849.68 435.1Z" fill="#808080"/>
<path d="M861.56 424.26L864.63 428.76L858.5 428.76Z" fill="#808080"/>
<path d="M905.63 441.68L908.7 446.18L902.56 446.18Z" fill="#808080"/>
<path d="M971.72 432.97L974.79 437.47L968.66 437.47Z" fill="#808080"/>
<path d="M817.5 399.04L820.44 397.85L831.45 414.88L852.75 439.04L861.56 430.72L905.63 444.18L971.72 429.53" fill="none" stroke="#c6c6c6" stroke-width="1.35" stroke-linejoin="round"/>
<path d="M817.5 401.54L820.57 397.04L814.43 397.04Z" fill="#cccccc"/>
<path d="M820.44 400.35L823.51 395.85L817.37 395.85Z" fill="#cccccc"/>
<path d="M831.45 417.38L834.52 412.88L828.39 412.88Z" fill="#cccccc"/>
<path d="M852.75 441.54L855.82 437.04L849.68 437.04Z" fill="#cccccc"/>
<path d="M861.56 433.22L864.63 428.72L858.5 428.72Z" fill="#cccccc"/>
<path d="M905.63 446.68L908.7 442.18L902.56 442.18Z" fill="#cccccc"/>
<path d="M971.72 432.03L974.79 427.53L968.66 427.53Z" fill="#cccccc"/>
<path d="M817.5 399.04L820.44 397.85L831.45 412.5L852.75 435.47L861.56 433.1L905.63 444.18L971.72 435.47" fill="none" stroke="#646464" stroke-width="1.35" stroke-linejoin="round"/>
<path d="M817.5 396.34L820.45 399.04L817.5 401.74L814.55 399.04Z" fill="#5c5c5c"/>
<path d="M820.44 395.15L823.39 397.85L820.44 400.55L817.49 397.85Z" fill="#5c5c5c"/>
<path d="M831.45 409.8L834.4 412.5L831.45 415.2L828.5 412.5Z" fill="#5c5c5c"/>
<path d="M852.75 432.77L855.7 435.47L852.75 438.17L849.8 435.47Z" fill="#5c5c5c"/>
<path d="M861.56 430.4L864.51 433.1L861.56 435.8L858.61 433.1Z" fill="#5c5c5c"/>
<path d="M905.63 441.48L908.58 444.18L905.63 446.88L902.68 444.18Z" fill="#5c5c5c"/>
<path d="M971.72 432.77L974.67 435.47L971.72 438.17L968.77 435.47Z" fill="#5c5c5c"/>
</g>
</svg>
</body></html>
